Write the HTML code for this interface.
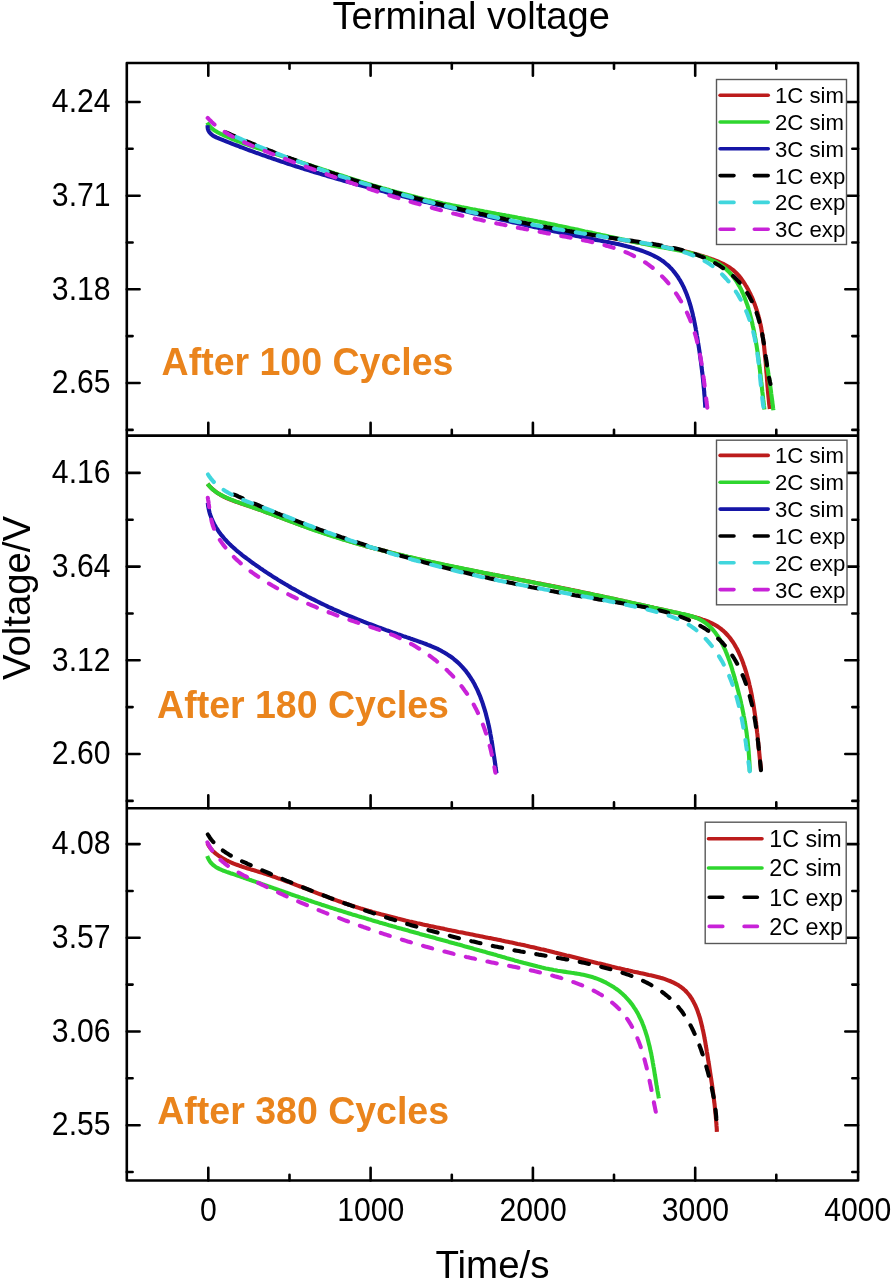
<!DOCTYPE html>
<html><head><meta charset="utf-8"><title>Terminal voltage</title>
<style>
html,body{margin:0;padding:0;background:#fff;}
body{width:892px;height:1280px;overflow:hidden;}
svg{display:block;font-family:"Liberation Sans",sans-serif;}


</style></head><body>
<svg width="892" height="1280" viewBox="0 0 892 1280">
<defs><filter id="bl" filterUnits="userSpaceOnUse" x="0" y="0" width="892" height="1280"><feGaussianBlur stdDeviation="0.45"/></filter></defs>
<rect width="892" height="1280" fill="#fff"/>
<g filter="url(#bl)">
<g><path d="M600.0,235.5 L602.0,235.9 L604.0,236.3 L606.0,236.7 L607.9,237.1 L609.9,237.5 L611.9,237.9 L613.9,238.3 L615.9,238.7 L617.9,239.0 L619.9,239.4 L621.9,239.8 L623.9,240.1 L625.8,240.5 L627.8,240.8 L629.8,241.1 L631.8,241.5 L633.8,241.8 L635.8,242.1 L637.8,242.5 L639.8,242.8 L641.8,243.1 L643.8,243.5 L645.8,243.8 L647.8,244.1 L649.8,244.5 L651.8,244.8 L653.8,245.2 L655.8,245.5 L657.8,245.9 L659.8,246.2 L661.8,246.6 L663.8,246.9 L665.7,247.3 L667.7,247.7 L669.7,248.1 L671.7,248.5 L673.7,248.9 L675.7,249.3 L677.7,249.7 L679.6,250.1 L681.6,250.6 L683.6,251.0 L685.5,251.5 L687.5,252.0 L689.5,252.5 L691.4,253.0 L693.4,253.5 L695.4,254.0 L697.3,254.6 L699.2,255.1 L701.2,255.7 L703.1,256.3 L705.1,256.9 L707.0,257.5 L708.9,258.2 L710.8,258.8 L712.7,259.5 L714.6,260.2 L716.5,260.9 L718.4,261.7 L720.2,262.5 L722.1,263.4 L723.9,264.2 L725.7,265.2 L727.4,266.2 L729.2,267.3 L730.8,268.4 L732.5,269.6 L734.0,270.9 L735.5,272.2 L737.0,273.7 L738.3,275.1 L739.7,276.7 L740.9,278.3 L742.1,279.9 L743.3,281.6 L744.4,283.3 L745.4,285.0 L746.5,286.7 L747.5,288.5 L748.5,290.3 L749.4,292.1 L750.3,293.9 L751.1,295.7 L752.0,297.5 L752.8,299.4 L753.5,301.3 L754.3,303.2 L755.0,305.1 L755.6,307.0 L756.3,308.9 L756.9,310.8 L757.5,312.8 L758.0,314.7 L758.6,316.7 L759.1,318.6 L759.6,320.6 L760.0,322.6 L760.5,324.5 L760.9,326.5 L761.3,328.5 L761.6,330.5 L762.0,332.5 L762.3,334.5 L762.7,336.5 L763.0,338.5 L763.3,340.5 L763.5,342.5 L763.8,344.5 L764.1,346.5 L764.3,348.5 L764.5,350.5 L764.7,352.5 L764.9,354.5 L765.1,356.6 L765.3,358.6 L765.5,360.6 L765.7,362.6 L765.9,364.6 L766.0,366.6 L766.2,368.7 L766.3,370.7 L766.5,372.7 L766.7,374.7 L766.8,376.7 L767.0,378.8 L767.1,380.8 L767.3,382.8 L767.4,384.8 L767.6,386.8 L767.8,388.8 L767.9,390.9 L768.1,392.9 L768.3,394.9 L768.5,396.9 L768.7,398.9 L768.9,400.9 L769.1,403.0 L769.3,405.0 L769.6,407.0 L769.8,409.0" fill="none" stroke="#BC1A1A" stroke-width="4.1" stroke-linejoin="round"/>
<path d="M207.3,122.5 L208.2,124.2 L209.4,125.9 L210.7,127.4 L212.2,128.7 L213.8,130.0 L215.5,131.1 L217.2,132.1 L219.0,133.0 L220.8,133.9 L222.6,134.7 L224.4,135.6 L226.3,136.4 L228.1,137.2 L229.9,138.0 L231.8,138.8 L233.7,139.5 L235.5,140.3 L237.4,141.0 L239.3,141.7 L241.2,142.4 L243.1,143.1 L244.9,143.8 L246.8,144.4 L248.7,145.1 L250.6,145.7 L252.5,146.4 L254.5,147.0 L256.4,147.7 L258.3,148.3 L260.2,148.9 L262.1,149.5 L264.0,150.1 L265.9,150.8 L267.8,151.4 L269.7,152.0 L271.6,152.6 L273.6,153.2 L275.5,153.9 L277.4,154.5 L279.3,155.1 L281.2,155.7 L283.1,156.4 L285.0,157.0 L286.9,157.6 L288.8,158.3 L290.7,158.9 L292.7,159.5 L294.6,160.1 L296.5,160.8 L298.4,161.4 L300.3,162.0 L302.2,162.7 L304.1,163.3 L306.0,163.9 L307.9,164.6 L309.8,165.2 L311.7,165.8 L313.6,166.5 L315.5,167.1 L317.5,167.7 L319.4,168.3 L321.3,169.0 L323.2,169.6 L325.1,170.2 L327.0,170.9 L328.9,171.5 L330.8,172.1 L332.7,172.7 L334.6,173.4 L336.5,174.0 L338.5,174.6 L340.4,175.2 L342.3,175.8 L344.2,176.4 L346.1,177.0 L348.0,177.7 L349.9,178.3 L351.9,178.9 L353.8,179.5 L355.7,180.1 L357.6,180.7 L359.5,181.3 L361.5,181.9 L363.4,182.5 L365.3,183.0 L367.2,183.6 L369.1,184.2 L371.1,184.8 L373.0,185.4 L374.9,185.9 L376.8,186.5 L378.8,187.1 L380.7,187.6 L382.6,188.2 L384.6,188.7 L386.5,189.3 L388.4,189.8 L390.4,190.4 L392.3,190.9 L394.2,191.5 L396.2,192.0 L398.1,192.5 L400.0,193.1 L402.0,193.6 L403.9,194.1 L405.9,194.6 L407.8,195.1 L409.8,195.6 L411.7,196.1 L413.7,196.6 L415.6,197.1 L417.6,197.6 L419.5,198.0 L421.5,198.5 L423.4,199.0 L425.4,199.4 L427.3,199.9 L429.3,200.3 L431.3,200.8 L433.2,201.2 L435.2,201.7 L437.1,202.1 L439.1,202.5 L441.1,202.9 L443.0,203.4 L445.0,203.8 L447.0,204.2 L448.9,204.6 L450.9,205.0 L452.9,205.4 L454.8,205.8 L456.8,206.2 L458.8,206.6 L460.8,207.0 L462.7,207.4 L464.7,207.7 L466.7,208.1 L468.6,208.5 L470.6,208.9 L472.6,209.3 L474.6,209.6 L476.5,210.0 L478.5,210.4 L480.5,210.7 L482.5,211.1 L484.4,211.5 L486.4,211.8 L488.4,212.2 L490.4,212.6 L492.3,212.9 L494.3,213.3 L496.3,213.7 L498.3,214.0 L500.3,214.4 L502.2,214.8 L504.2,215.1 L506.2,215.5 L508.2,215.8 L510.1,216.2 L512.1,216.6 L514.1,216.9 L516.1,217.3 L518.0,217.7 L520.0,218.0 L522.0,218.4 L524.0,218.8 L525.9,219.2 L527.9,219.5 L529.9,219.9 L531.9,220.3 L533.8,220.7 L535.8,221.1 L537.8,221.5 L539.7,221.8 L541.7,222.2 L543.7,222.6 L545.7,223.0 L547.6,223.4 L549.6,223.8 L551.6,224.2 L553.5,224.6 L555.5,225.0 L557.5,225.5 L559.4,225.9 L561.4,226.3 L563.4,226.7 L565.3,227.1 L567.3,227.5 L569.3,228.0 L571.2,228.4 L573.2,228.8 L575.2,229.2 L577.1,229.6 L579.1,230.1 L581.0,230.5 L583.0,230.9 L585.0,231.4 L586.9,231.8 L588.9,232.2 L590.9,232.6 L592.8,233.1 L594.8,233.5 L596.8,233.9 L598.7,234.3 L600.7,234.8 L602.6,235.2 L604.6,235.6 L606.6,236.0 L608.5,236.5 L610.5,236.9 L612.5,237.3 L614.4,237.7 L616.4,238.2 L618.4,238.6 L620.3,239.0 L622.3,239.4 L624.3,239.8 L626.2,240.2 L628.2,240.6 L630.2,241.1 L632.1,241.5 L634.1,241.9 L636.1,242.3 L638.0,242.7 L640.0,243.1 L642.0,243.5 L643.9,243.8 L645.9,244.2 L647.9,244.6 L649.9,245.0 L651.8,245.4 L653.8,245.8 L655.8,246.1 L657.8,246.5 L659.7,246.9 L661.7,247.2 L663.7,247.6 L665.7,248.0 L667.6,248.3 L669.6,248.7 L671.6,249.0 L673.6,249.4 L675.5,249.8 L677.5,250.2 L679.5,250.6 L681.5,251.0 L683.4,251.4 L685.4,251.9 L687.3,252.3 L689.3,252.8 L691.2,253.3 L693.2,253.8 L695.1,254.3 L697.1,254.9 L699.0,255.4 L700.9,256.0 L702.8,256.7 L704.7,257.3 L706.6,258.0 L708.5,258.7 L710.3,259.5 L712.2,260.3 L714.0,261.1 L715.8,262.0 L717.5,263.0 L719.3,264.0 L721.0,265.1 L722.6,266.3 L724.2,267.5 L725.7,268.8 L727.2,270.2 L728.6,271.6 L730.0,273.0 L731.4,274.5 L732.7,276.1 L733.9,277.7 L735.1,279.3 L736.2,281.0 L737.3,282.7 L738.3,284.4 L739.3,286.1 L740.3,287.9 L741.2,289.7 L742.0,291.5 L742.9,293.3 L743.7,295.2 L744.4,297.0 L745.1,298.9 L745.8,300.8 L746.5,302.7 L747.2,304.6 L747.8,306.5 L748.4,308.4 L748.9,310.3 L749.5,312.3 L750.0,314.2 L750.5,316.2 L751.0,318.1 L751.5,320.1 L752.0,322.0 L752.4,324.0 L752.8,325.9 L753.3,327.9 L753.7,329.9 L754.1,331.8 L754.5,333.8 L754.8,335.8 L755.2,337.8 L755.6,339.7 L755.9,341.7 L756.2,343.7 L756.6,345.7 L756.9,347.7 L757.2,349.7 L757.5,351.6 L757.8,353.6 L758.1,355.6 L758.3,357.6 L758.6,359.6 L758.9,361.6 L759.1,363.6 L759.4,365.6 L759.6,367.6 L759.9,369.6 L760.1,371.6 L760.3,373.6 L760.6,375.6 L760.8,377.6 L761.0,379.6 L761.2,381.5 L761.5,383.5 L761.7,385.5 L761.9,387.5 L762.1,389.5 L762.3,391.5 L762.6,393.5 L762.8,395.5 L763.0,397.5 L763.2,399.5 L763.5,401.5 L763.7,403.5 L763.9,405.5 L764.2,407.5 L764.4,409.5" fill="none" stroke="#2FD62F" stroke-width="4.1" stroke-linejoin="round"/>
<path d="M766.0,360.0 L766.4,362.1 L766.8,364.2 L767.1,366.3 L767.5,368.3 L767.9,370.4 L768.2,372.5 L768.5,374.6 L768.9,376.7 L769.2,378.8 L769.5,380.9 L769.8,383.0 L770.1,385.1 L770.4,387.2 L770.7,389.3 L771.0,391.4 L771.2,393.5 L771.5,395.6 L771.8,397.7 L772.1,399.8 L772.3,401.9 L772.6,404.0 L772.9,406.1 L773.1,408.2 L773.4,410.3" fill="none" stroke="#2FD62F" stroke-width="4.1" stroke-linejoin="round"/>
<path d="M207.6,125.2 L207.6,127.2 L207.9,129.1 L208.6,131.0 L209.7,132.7 L211.1,134.2 L212.7,135.4 L214.4,136.4 L216.2,137.3 L218.1,138.1 L219.9,138.9 L221.8,139.6 L223.7,140.4 L225.5,141.1 L227.4,141.9 L229.3,142.6 L231.1,143.3 L233.0,144.1 L234.9,144.8 L236.8,145.5 L238.6,146.2 L240.5,147.0 L242.4,147.7 L244.3,148.4 L246.2,149.1 L248.1,149.8 L249.9,150.5 L251.8,151.2 L253.7,151.9 L255.6,152.6 L257.5,153.2 L259.4,153.9 L261.3,154.6 L263.2,155.3 L265.1,155.9 L267.0,156.6 L268.9,157.3 L270.8,157.9 L272.7,158.6 L274.6,159.2 L276.5,159.9 L278.4,160.5 L280.3,161.2 L282.2,161.8 L284.1,162.4 L286.0,163.1 L287.9,163.7 L289.8,164.3 L291.7,164.9 L293.6,165.6 L295.6,166.2 L297.5,166.8 L299.4,167.4 L301.3,168.0 L303.2,168.6 L305.1,169.2 L307.1,169.8 L309.0,170.4 L310.9,171.0 L312.8,171.6 L314.7,172.2 L316.7,172.8 L318.6,173.3 L320.5,173.9 L322.4,174.5 L324.4,175.1 L326.3,175.6 L328.2,176.2 L330.2,176.8 L332.1,177.3 L334.0,177.9 L335.9,178.5 L337.9,179.0 L339.8,179.6 L341.7,180.1 L343.7,180.7 L345.6,181.2 L347.5,181.7 L349.5,182.3 L351.4,182.8 L353.4,183.4 L355.3,183.9 L357.2,184.4 L359.2,185.0 L361.1,185.5 L363.1,186.0 L365.0,186.5 L366.9,187.0 L368.9,187.6 L370.8,188.1 L372.8,188.6 L374.7,189.1 L376.7,189.6 L378.6,190.1 L380.5,190.6 L382.5,191.1 L384.4,191.6 L386.4,192.2 L388.3,192.7 L390.3,193.1 L392.2,193.6 L394.2,194.1 L396.1,194.6 L398.1,195.1 L400.0,195.6 L402.0,196.1 L403.9,196.6 L405.9,197.1 L407.8,197.6 L409.8,198.0 L411.7,198.5 L413.7,199.0 L415.6,199.5 L417.6,200.0 L419.5,200.4 L421.5,200.9 L423.4,201.4 L425.4,201.9 L427.4,202.3 L429.3,202.8 L431.3,203.3 L433.2,203.7 L435.2,204.2 L437.1,204.7 L439.1,205.1 L441.0,205.6 L443.0,206.1 L445.0,206.5 L446.9,207.0 L448.9,207.5 L450.8,207.9 L452.8,208.4 L454.7,208.8 L456.7,209.3 L458.7,209.7 L460.6,210.2 L462.6,210.7 L464.5,211.1 L466.5,211.6 L468.4,212.0 L470.4,212.5 L472.4,212.9 L474.3,213.4 L476.3,213.8 L478.2,214.3 L480.2,214.7 L482.2,215.2 L484.1,215.6 L486.1,216.1 L488.0,216.5 L490.0,217.0 L491.9,217.4 L493.9,217.9 L495.9,218.3 L497.8,218.8 L499.8,219.2 L501.7,219.7 L503.7,220.1 L505.7,220.6 L507.6,221.0 L509.6,221.5 L511.5,221.9 L513.5,222.4 L515.5,222.8 L517.4,223.2 L519.4,223.7 L521.4,224.1 L523.3,224.6 L525.3,225.0 L527.2,225.4 L529.2,225.9 L531.2,226.3 L533.1,226.7 L535.1,227.2 L537.1,227.6 L539.0,228.0 L541.0,228.5 L542.9,228.9 L544.9,229.3 L546.9,229.7 L548.8,230.2 L550.8,230.6 L552.8,231.0 L554.7,231.4 L556.7,231.8 L558.7,232.3 L560.6,232.7 L562.6,233.1 L564.6,233.5 L566.5,233.9 L568.5,234.3 L570.5,234.7 L572.4,235.1 L574.4,235.5 L576.4,235.9 L578.4,236.3 L580.3,236.7 L582.3,237.1 L584.3,237.5 L586.2,237.9 L588.2,238.3 L590.2,238.7 L592.2,239.1 L594.1,239.5 L596.1,239.9 L598.1,240.2 L600.1,240.6 L602.0,241.0 L604.0,241.4 L606.0,241.8 L607.9,242.1 L609.9,242.5 L611.9,242.9 L613.9,243.3 L615.8,243.7 L617.8,244.1 L619.8,244.6 L621.7,245.0 L623.7,245.5 L625.6,245.9 L627.6,246.4 L629.5,246.9 L631.5,247.5 L633.4,248.0 L635.3,248.6 L637.2,249.2 L639.2,249.8 L641.1,250.5 L642.9,251.2 L644.8,251.9 L646.7,252.6 L648.6,253.4 L650.4,254.2 L652.2,255.0 L654.0,255.9 L655.8,256.8 L657.6,257.8 L659.3,258.8 L661.0,259.9 L662.7,261.0 L664.3,262.2 L665.8,263.5 L667.4,264.8 L668.9,266.1 L670.3,267.6 L671.7,269.0 L673.0,270.5 L674.3,272.1 L675.5,273.7 L676.7,275.3 L677.9,276.9 L678.9,278.6 L680.0,280.3 L681.0,282.1 L682.0,283.8 L682.9,285.6 L683.8,287.4 L684.6,289.3 L685.4,291.1 L686.2,293.0 L686.9,294.8 L687.6,296.7 L688.3,298.6 L688.9,300.5 L689.5,302.4 L690.1,304.4 L690.7,306.3 L691.2,308.2 L691.7,310.2 L692.2,312.1 L692.7,314.1 L693.1,316.0 L693.6,318.0 L694.0,320.0 L694.4,321.9 L694.8,323.9 L695.2,325.9 L695.6,327.8 L695.9,329.8 L696.3,331.8 L696.6,333.8 L696.9,335.8 L697.3,337.7 L697.6,339.7 L697.9,341.7 L698.2,343.7 L698.6,345.7 L698.9,347.7 L699.2,349.7 L699.5,351.7 L699.8,353.6 L700.0,355.6 L700.3,357.6 L700.6,359.6 L700.9,361.6 L701.1,363.6 L701.4,365.6 L701.6,367.6 L701.9,369.6 L702.1,371.6 L702.4,373.6 L702.6,375.6 L702.8,377.6 L703.0,379.6 L703.2,381.6 L703.4,383.6 L703.6,385.6 L703.8,387.6 L704.0,389.6 L704.2,391.6 L704.3,393.6 L704.5,395.6 L704.7,397.6 L704.8,399.6 L704.9,401.6 L705.1,403.6 L705.2,405.6 L705.3,407.6" fill="none" stroke="#1212A6" stroke-width="4.1" stroke-linejoin="round"/>
<path d="M225.9,132.4 L227.7,133.2 L229.6,134.0 L231.4,134.8 L233.3,135.6 L235.1,136.4 L237.0,137.2 L238.8,138.0 L240.7,138.8 L242.5,139.5 L244.4,140.3 L246.2,141.1 L248.1,141.8 L250.0,142.6 L251.8,143.4 L253.7,144.1 L255.5,144.9 L257.4,145.6 L259.3,146.4 L261.1,147.1 L263.0,147.9 L264.9,148.6 L266.7,149.3 L268.6,150.1 L270.5,150.8 L272.4,151.5 L274.2,152.3 L276.1,153.0 L278.0,153.7 L279.9,154.4 L281.7,155.1 L283.6,155.8 L285.5,156.5 L287.4,157.3 L289.3,158.0 L291.2,158.7 L293.0,159.3 L294.9,160.0 L296.8,160.7 L298.7,161.4 L300.6,162.1 L302.5,162.8 L304.4,163.5 L306.3,164.1 L308.2,164.8 L310.1,165.5 L312.0,166.1 L313.8,166.8 L315.7,167.5 L317.6,168.1 L319.5,168.8 L321.4,169.4 L323.3,170.1 L325.3,170.7 L327.2,171.4 L329.1,172.0 L331.0,172.6 L332.9,173.3 L334.8,173.9 L336.7,174.5 L338.6,175.2 L340.5,175.8 L342.4,176.4 L344.3,177.0 L346.2,177.6 L348.2,178.2 L350.1,178.9 L352.0,179.5 L353.9,180.1 L355.8,180.7 L357.7,181.3 L359.7,181.9 L361.6,182.4 L363.5,183.0 L365.4,183.6 L367.4,184.2 L369.3,184.8 L371.2,185.4 L373.1,185.9 L375.1,186.5 L377.0,187.1 L378.9,187.7 L380.8,188.2 L382.8,188.8 L384.7,189.3 L386.6,189.9 L388.6,190.5 L390.5,191.0 L392.4,191.6 L394.4,192.1 L396.3,192.7 L398.2,193.2 L400.2,193.7 L402.1,194.3 L404.0,194.8 L406.0,195.3 L407.9,195.9 L409.8,196.4 L411.8,196.9 L413.7,197.4 L415.7,198.0 L417.6,198.5 L419.6,199.0 L421.5,199.5 L423.4,200.0 L425.4,200.5 L427.3,201.0 L429.3,201.5 L431.2,202.0 L433.2,202.5 L435.1,203.0 L437.1,203.5 L439.0,204.0 L441.0,204.5 L442.9,205.0 L444.9,205.4 L446.8,205.9 L448.8,206.4 L450.7,206.9 L452.7,207.3 L454.6,207.8 L456.6,208.3 L458.5,208.7 L460.5,209.2 L462.5,209.7 L464.4,210.1 L466.4,210.6 L468.3,211.0 L470.3,211.5 L472.3,211.9 L474.2,212.4 L476.2,212.8 L478.1,213.2 L480.1,213.7 L482.1,214.1 L484.0,214.5 L486.0,215.0 L487.9,215.4 L489.9,215.8 L491.9,216.3 L493.8,216.7 L495.8,217.1 L497.8,217.5 L499.7,217.9 L501.7,218.3 L503.7,218.7 L505.6,219.2 L507.6,219.6 L509.6,220.0 L511.5,220.4 L513.5,220.8 L515.5,221.2 L517.5,221.6 L519.4,221.9 L521.4,222.3 L523.4,222.7 L525.3,223.1 L527.3,223.5 L529.3,223.9 L531.3,224.2 L533.2,224.6 L535.2,225.0 L537.2,225.4 L539.2,225.7 L541.1,226.1 L543.1,226.5 L545.1,226.8 L547.1,227.2 L549.0,227.5 L551.0,227.9 L553.0,228.3 L555.0,228.6 L557.0,229.0 L558.9,229.3 L560.9,229.7 L562.9,230.0 L564.9,230.3 L566.9,230.7 L568.8,231.0 L570.8,231.4 L572.8,231.7 L574.8,232.0 L576.8,232.4 L578.7,232.7 L580.7,233.0 L582.7,233.3 L584.7,233.7 L586.7,234.0 L588.7,234.3 L590.7,234.6 L592.6,234.9 L594.6,235.2 L596.6,235.6 L598.6,235.9 L600.6,236.2 L602.6,236.5 L604.5,236.8 L606.5,237.1 L608.5,237.4 L610.5,237.7 L612.5,238.0 L614.5,238.3 L616.5,238.6 L618.5,238.9 L620.4,239.2 L622.4,239.5 L624.4,239.8 L626.4,240.1 L628.4,240.4 L630.4,240.6 L632.4,240.9 L634.4,241.2 L636.4,241.5 L638.3,241.8 L640.3,242.1 L642.3,242.4 L644.3,242.7 L646.3,243.0 L648.3,243.3 L650.3,243.6 L652.3,243.9 L654.2,244.2 L656.2,244.6 L658.2,244.9 L660.2,245.3 L662.2,245.6 L664.1,246.0 L666.1,246.4 L668.1,246.8 L670.0,247.2 L672.0,247.6 L674.0,248.1 L675.9,248.5 L677.9,249.0 L679.8,249.5 L681.8,250.0 L683.7,250.6 L685.6,251.1 L687.6,251.7 L689.5,252.3 L691.4,252.9 L693.3,253.5 L695.2,254.2 L697.1,254.9 L698.9,255.6 L700.8,256.4 L702.7,257.1 L704.5,257.9 L706.3,258.7 L708.2,259.6 L710.0,260.5 L711.8,261.4 L713.5,262.3 L715.3,263.3 L717.0,264.3 L718.8,265.3 L720.5,266.4 L722.1,267.5 L723.8,268.6 L725.4,269.8 L727.1,271.0 L728.6,272.2 L730.2,273.5 L731.7,274.8 L733.2,276.1 L734.7,277.5 L736.1,278.9 L737.5,280.4 L738.9,281.8 L740.2,283.3 L741.5,284.9 L742.8,286.5 L744.0,288.1 L745.1,289.7 L746.2,291.4 L747.3,293.1 L748.4,294.8 L749.4,296.5 L750.3,298.3 L751.2,300.1 L752.1,301.9 L753.0,303.7 L753.8,305.6 L754.6,307.4 L755.3,309.3 L756.0,311.2 L756.7,313.1 L757.3,315.0 L758.0,316.9 L758.5,318.8 L759.1,320.7 L759.6,322.7 L760.1,324.6 L760.6,326.6 L761.0,328.5 L761.5,330.5 L761.9,332.5 L762.3,334.4 L762.6,336.4 L763.0,338.4 L763.3,340.4 L763.7,342.3 L764.0,344.3 L764.3,346.3 L764.6,348.3 L764.9,350.3 L765.2,352.3 L765.5,354.3 L765.7,356.3 L766.0,358.2 L766.3,360.2 L766.6,362.2 L766.9,364.2 L767.2,366.2 L767.5,368.2 L767.8,370.2 L768.1,372.2 L768.5,374.1 L768.8,376.1 L769.2,378.1 L769.6,380.1 L770.0,382.0 L770.5,384.0" fill="none" stroke="#000000" stroke-width="4.1" stroke-dasharray="9.5 12.6" stroke-dashoffset="0" stroke-linecap="round" stroke-linejoin="round"/>
<path d="M226.0,132.7 L227.8,133.5 L229.7,134.3 L231.5,135.1 L233.4,135.9 L235.2,136.7 L237.1,137.4 L238.9,138.2 L240.8,139.0 L242.6,139.8 L244.5,140.6 L246.3,141.3 L248.2,142.1 L250.0,142.9 L251.9,143.6 L253.8,144.4 L255.6,145.2 L257.5,145.9 L259.4,146.7 L261.2,147.4 L263.1,148.2 L265.0,148.9 L266.8,149.6 L268.7,150.4 L270.6,151.1 L272.5,151.8 L274.3,152.6 L276.2,153.3 L278.1,154.0 L280.0,154.7 L281.8,155.4 L283.7,156.2 L285.6,156.9 L287.5,157.6 L289.4,158.3 L291.3,159.0 L293.1,159.7 L295.0,160.4 L296.9,161.1 L298.8,161.7 L300.7,162.4 L302.6,163.1 L304.5,163.8 L306.4,164.5 L308.3,165.1 L310.2,165.8 L312.1,166.5 L314.0,167.2 L315.9,167.8 L317.8,168.5 L319.7,169.1 L321.6,169.8 L323.5,170.4 L325.4,171.1 L327.3,171.7 L329.2,172.4 L331.1,173.0 L333.0,173.7 L334.9,174.3 L336.8,174.9 L338.7,175.5 L340.7,176.2 L342.6,176.8 L344.5,177.4 L346.4,178.0 L348.3,178.6 L350.2,179.3 L352.1,179.9 L354.1,180.5 L356.0,181.1 L357.9,181.7 L359.8,182.3 L361.7,182.9 L363.7,183.5 L365.6,184.0 L367.5,184.6 L369.4,185.2 L371.4,185.8 L373.3,186.4 L375.2,187.0 L377.1,187.5 L379.1,188.1 L381.0,188.7 L382.9,189.2 L384.9,189.8 L386.8,190.3 L388.7,190.9 L390.7,191.5 L392.6,192.0 L394.5,192.6 L396.5,193.1 L398.4,193.6 L400.3,194.2 L402.3,194.7 L404.2,195.3 L406.2,195.8 L408.1,196.3 L410.0,196.8 L412.0,197.4 L413.9,197.9 L415.9,198.4 L417.8,198.9 L419.8,199.4 L421.7,200.0 L423.7,200.5 L425.6,201.0 L427.5,201.5 L429.5,202.0 L431.4,202.5 L433.4,203.0 L435.3,203.5 L437.3,203.9 L439.2,204.4 L441.2,204.9 L443.2,205.4 L445.1,205.9 L447.1,206.4 L449.0,206.8 L451.0,207.3 L452.9,207.8 L454.9,208.2 L456.8,208.7 L458.8,209.2 L460.8,209.6 L462.7,210.1 L464.7,210.5 L466.6,211.0 L468.6,211.4 L470.6,211.9 L472.5,212.3 L474.5,212.8 L476.4,213.2 L478.4,213.7 L480.4,214.1 L482.3,214.5 L484.3,214.9 L486.3,215.4 L488.2,215.8 L490.2,216.2 L492.2,216.6 L494.1,217.1 L496.1,217.5 L498.1,217.9 L500.0,218.3 L502.0,218.7 L504.0,219.1 L506.0,219.5 L507.9,219.9 L509.9,220.3 L511.9,220.7 L513.8,221.1 L515.8,221.5 L517.8,221.9 L519.8,222.3 L521.7,222.6 L523.7,223.0 L525.7,223.4 L527.7,223.8 L529.6,224.2 L531.6,224.5 L533.6,224.9 L535.6,225.3 L537.6,225.6 L539.5,226.0 L541.5,226.4 L543.5,226.7 L545.5,227.1 L547.4,227.4 L549.4,227.8 L551.4,228.1 L553.4,228.5 L555.4,228.8 L557.4,229.2 L559.3,229.5 L561.3,229.8 L563.3,230.2 L565.3,230.5 L567.3,230.8 L569.3,231.2 L571.2,231.5 L573.2,231.8 L575.2,232.2 L577.2,232.5 L579.2,232.8 L581.2,233.2 L583.1,233.5 L585.1,233.8 L587.1,234.1 L589.1,234.4 L591.1,234.8 L593.1,235.1 L595.1,235.4 L597.0,235.7 L599.0,236.0 L601.0,236.3 L603.0,236.7 L605.0,237.0 L607.0,237.3 L609.0,237.6 L611.0,237.9 L612.9,238.2 L614.9,238.5 L616.9,238.8 L618.9,239.1 L620.9,239.5 L622.9,239.8 L624.9,240.1 L626.9,240.4 L628.8,240.7 L630.8,241.0 L632.8,241.3 L634.8,241.6 L636.8,241.9 L638.8,242.3 L640.8,242.6 L642.8,242.9 L644.7,243.2 L646.7,243.6 L648.7,243.9 L650.7,244.3 L652.7,244.6 L654.6,245.0 L656.6,245.4 L658.6,245.8 L660.6,246.2 L662.5,246.6 L664.5,247.0 L666.5,247.4 L668.4,247.9 L670.4,248.3 L672.3,248.8 L674.3,249.3 L676.2,249.8 L678.2,250.4 L680.1,250.9 L682.0,251.5 L683.9,252.1 L685.9,252.7 L687.8,253.4 L689.6,254.1 L691.5,254.8 L693.4,255.5 L695.3,256.3 L697.1,257.1 L698.9,258.0 L700.7,258.9 L702.5,259.8 L704.3,260.8 L706.0,261.8 L707.7,262.8 L709.4,263.9 L711.1,265.1 L712.7,266.2 L714.3,267.5 L715.9,268.7 L717.4,270.0 L718.9,271.4 L720.4,272.7 L721.8,274.1 L723.2,275.5 L724.6,277.0 L726.0,278.5 L727.3,280.0 L728.6,281.5 L729.9,283.1 L731.1,284.7 L732.3,286.3 L733.5,287.9 L734.6,289.6 L735.7,291.3 L736.8,293.0 L737.9,294.7 L738.9,296.4 L739.9,298.2 L740.9,299.9 L741.8,301.7 L742.7,303.5 L743.6,305.3 L744.5,307.1 L745.3,308.9 L746.1,310.8 L746.9,312.6 L747.6,314.5 L748.3,316.4 L749.0,318.3 L749.7,320.2 L750.3,322.1 L751.0,324.0 L751.6,325.9 L752.1,327.9 L752.7,329.8 L753.2,331.7 L753.7,333.7 L754.1,335.6 L754.6,337.6 L755.0,339.6 L755.4,341.5 L755.7,343.5 L756.1,345.5 L756.4,347.5 L756.8,349.5 L757.1,351.5 L757.4,353.4 L757.6,355.4 L757.9,357.4 L758.2,359.4 L758.4,361.4 L758.6,363.4 L758.9,365.4 L759.1,367.4 L759.3,369.4 L759.5,371.4 L759.7,373.4 L759.9,375.4 L760.1,377.4 L760.3,379.4 L760.5,381.4 L760.7,383.4 L760.9,385.4 L761.1,387.4 L761.3,389.4 L761.5,391.4 L761.7,393.4 L761.9,395.4 L762.2,397.4 L762.4,399.4 L762.7,401.4 L762.9,403.4 L763.2,405.4 L763.5,407.4 L763.8,409.4" fill="none" stroke="#3FD6DD" stroke-width="4.1" stroke-dasharray="9.5 12.6" stroke-dashoffset="11" stroke-linecap="round" stroke-linejoin="round"/>
<path d="M207.7,117.9 L209.1,119.4 L210.5,120.8 L211.9,122.2 L213.4,123.6 L214.9,124.9 L216.5,126.2 L218.1,127.4 L219.7,128.6 L221.3,129.8 L223.0,130.9 L224.7,132.0 L226.4,133.1 L228.1,134.1 L229.9,135.1 L231.6,136.1 L233.4,137.0 L235.2,138.0 L237.0,138.9 L238.8,139.8 L240.6,140.6 L242.4,141.5 L244.3,142.3 L246.1,143.1 L247.9,143.9 L249.8,144.7 L251.6,145.5 L253.5,146.3 L255.3,147.1 L257.2,147.9 L259.0,148.7 L260.9,149.4 L262.8,150.2 L264.6,150.9 L266.5,151.7 L268.4,152.4 L270.2,153.2 L272.1,153.9 L274.0,154.7 L275.9,155.4 L277.7,156.1 L279.6,156.9 L281.5,157.6 L283.4,158.3 L285.2,159.0 L287.1,159.7 L289.0,160.4 L290.9,161.2 L292.8,161.9 L294.7,162.6 L296.6,163.3 L298.4,164.0 L300.3,164.7 L302.2,165.4 L304.1,166.1 L306.0,166.8 L307.9,167.5 L309.8,168.2 L311.7,168.8 L313.5,169.5 L315.4,170.2 L317.3,170.9 L319.2,171.6 L321.1,172.3 L323.0,173.0 L324.9,173.6 L326.8,174.3 L328.7,175.0 L330.6,175.7 L332.5,176.3 L334.4,177.0 L336.3,177.7 L338.2,178.3 L340.1,179.0 L342.0,179.7 L343.9,180.3 L345.8,181.0 L347.7,181.6 L349.6,182.3 L351.5,182.9 L353.4,183.6 L355.3,184.2 L357.2,184.9 L359.1,185.5 L361.0,186.2 L362.9,186.8 L364.8,187.4 L366.8,188.1 L368.7,188.7 L370.6,189.3 L372.5,190.0 L374.4,190.6 L376.3,191.2 L378.2,191.8 L380.2,192.4 L382.1,193.0 L384.0,193.7 L385.9,194.3 L387.8,194.9 L389.7,195.5 L391.7,196.1 L393.6,196.7 L395.5,197.3 L397.4,197.8 L399.4,198.4 L401.3,199.0 L403.2,199.6 L405.1,200.2 L407.1,200.8 L409.0,201.3 L410.9,201.9 L412.9,202.5 L414.8,203.0 L416.7,203.6 L418.7,204.1 L420.6,204.7 L422.5,205.2 L424.5,205.8 L426.4,206.3 L428.4,206.9 L430.3,207.4 L432.2,207.9 L434.2,208.5 L436.1,209.0 L438.1,209.5 L440.0,210.0 L442.0,210.5 L443.9,211.1 L445.8,211.6 L447.8,212.1 L449.7,212.6 L451.7,213.1 L453.6,213.6 L455.6,214.0 L457.6,214.5 L459.5,215.0 L461.5,215.5 L463.4,216.0 L465.4,216.4 L467.3,216.9 L469.3,217.4 L471.3,217.8 L473.2,218.3 L475.2,218.7 L477.1,219.2 L479.1,219.6 L481.1,220.0 L483.0,220.5 L485.0,220.9 L487.0,221.3 L488.9,221.7 L490.9,222.2 L492.9,222.6 L494.8,223.0 L496.8,223.4 L498.8,223.8 L500.8,224.2 L502.7,224.6 L504.7,225.0 L506.7,225.4 L508.6,225.8 L510.6,226.2 L512.6,226.6 L514.6,227.0 L516.5,227.4 L518.5,227.8 L520.5,228.2 L522.5,228.5 L524.4,228.9 L526.4,229.3 L528.4,229.7 L530.4,230.1 L532.3,230.4 L534.3,230.8 L536.3,231.2 L538.3,231.6 L540.3,231.9 L542.2,232.3 L544.2,232.7 L546.2,233.1 L548.2,233.4 L550.1,233.8 L552.1,234.2 L554.1,234.6 L556.1,234.9 L558.1,235.3 L560.0,235.7 L562.0,236.1 L564.0,236.4 L566.0,236.8 L567.9,237.2 L569.9,237.6 L571.9,237.9 L573.9,238.3 L575.8,238.7 L577.8,239.1 L579.8,239.5 L581.8,239.9 L583.7,240.3 L585.7,240.7 L587.7,241.1 L589.6,241.5 L591.6,242.0 L593.6,242.4 L595.5,242.9 L597.5,243.3 L599.4,243.8 L601.4,244.3 L603.3,244.8 L605.3,245.4 L607.2,245.9 L609.2,246.5 L611.1,247.0 L613.0,247.6 L614.9,248.2 L616.8,248.9 L618.7,249.5 L620.6,250.2 L622.5,250.9 L624.4,251.7 L626.2,252.4 L628.1,253.2 L629.9,254.0 L631.8,254.9 L633.6,255.8 L635.4,256.7 L637.2,257.6 L638.9,258.6 L640.7,259.6 L642.4,260.6 L644.1,261.7 L645.8,262.8 L647.4,263.9 L649.1,265.1 L650.7,266.3 L652.3,267.5 L653.8,268.8 L655.4,270.1 L656.9,271.4 L658.4,272.8 L659.9,274.1 L661.3,275.5 L662.7,277.0 L664.1,278.4 L665.5,279.9 L666.8,281.4 L668.1,282.9 L669.4,284.5 L670.7,286.1 L671.9,287.7 L673.1,289.3 L674.3,290.9 L675.4,292.5 L676.6,294.2 L677.7,295.9 L678.8,297.6 L679.8,299.3 L680.9,301.0 L681.9,302.8 L682.8,304.5 L683.8,306.3 L684.7,308.1 L685.6,309.9 L686.5,311.7 L687.4,313.5 L688.2,315.3 L689.0,317.2 L689.8,319.0 L690.5,320.9 L691.3,322.8 L692.0,324.7 L692.7,326.5 L693.3,328.5 L693.9,330.4 L694.5,332.3 L695.1,334.2 L695.7,336.1 L696.2,338.1 L696.7,340.0 L697.2,342.0 L697.7,343.9 L698.2,345.9 L698.6,347.9 L699.0,349.8 L699.4,351.8 L699.8,353.8 L700.2,355.8 L700.5,357.7 L700.9,359.7 L701.2,361.7 L701.6,363.7 L701.9,365.7 L702.2,367.7 L702.5,369.7 L702.7,371.6 L703.0,373.6 L703.3,375.6 L703.6,377.6 L703.8,379.6 L704.1,381.6 L704.3,383.6 L704.6,385.6 L704.8,387.6 L705.0,389.6 L705.3,391.6 L705.5,393.6 L705.8,395.6 L706.0,397.6 L706.3,399.6 L706.5,401.6 L706.8,403.6 L707.0,405.6 L707.3,407.6" fill="none" stroke="#C824D8" stroke-width="4.1" stroke-dasharray="9.5 12.6" stroke-dashoffset="0" stroke-linecap="round" stroke-linejoin="round"/>
<path d="M207.6,483.9 L208.8,485.4 L210.2,486.9 L211.6,488.3 L213.1,489.6 L214.7,490.9 L216.3,492.1 L217.9,493.3 L219.6,494.3 L221.4,495.4 L223.1,496.3 L224.9,497.2 L226.7,498.1 L228.6,498.9 L230.4,499.7 L232.3,500.4 L234.2,501.1 L236.1,501.8 L238.0,502.4 L239.9,503.1 L241.8,503.7 L243.7,504.4 L245.6,505.0 L247.5,505.6 L249.4,506.2 L251.3,506.9 L253.2,507.5 L255.1,508.2 L257.0,508.8 L258.9,509.5 L260.8,510.2 L262.7,510.9 L264.5,511.6 L266.4,512.3 L268.3,513.0 L270.2,513.7 L272.1,514.4 L274.0,515.1 L275.8,515.8 L277.7,516.5 L279.6,517.2 L281.5,517.9 L283.4,518.6 L285.2,519.3 L287.1,520.0 L289.0,520.7 L290.9,521.4 L292.8,522.1 L294.7,522.8 L296.6,523.5 L298.5,524.1 L300.3,524.8 L302.2,525.5 L304.1,526.2 L306.0,526.8 L307.9,527.5 L309.8,528.2 L311.7,528.8 L313.6,529.5 L315.5,530.1 L317.4,530.8 L319.3,531.4 L321.2,532.1 L323.1,532.7 L325.0,533.4 L326.9,534.0 L328.8,534.6 L330.7,535.3 L332.6,535.9 L334.6,536.5 L336.5,537.1 L338.4,537.7 L340.3,538.3 L342.2,539.0 L344.1,539.6 L346.0,540.1 L348.0,540.7 L349.9,541.3 L351.8,541.9 L353.7,542.5 L355.7,543.1 L357.6,543.6 L359.5,544.2 L361.4,544.7 L363.4,545.3 L365.3,545.9 L367.2,546.4 L369.2,546.9 L371.1,547.5 L373.0,548.0 L375.0,548.5 L376.9,549.1 L378.9,549.6 L380.8,550.1 L382.7,550.6 L384.7,551.1 L386.6,551.6 L388.6,552.1 L390.5,552.6 L392.5,553.1 L394.4,553.6 L396.4,554.1 L398.3,554.5 L400.3,555.0 L402.2,555.5 L404.2,556.0 L406.1,556.4 L408.1,556.9 L410.0,557.4 L412.0,557.8 L414.0,558.3 L415.9,558.7 L417.9,559.2 L419.8,559.6 L421.8,560.0 L423.7,560.5 L425.7,560.9 L427.7,561.4 L429.6,561.8 L431.6,562.2 L433.6,562.6 L435.5,563.1 L437.5,563.5 L439.4,563.9 L441.4,564.3 L443.4,564.7 L445.3,565.1 L447.3,565.6 L449.3,566.0 L451.2,566.4 L453.2,566.8 L455.2,567.2 L457.1,567.6 L459.1,568.0 L461.1,568.4 L463.1,568.8 L465.0,569.2 L467.0,569.6 L469.0,569.9 L470.9,570.3 L472.9,570.7 L474.9,571.1 L476.8,571.5 L478.8,571.9 L480.8,572.3 L482.8,572.7 L484.7,573.0 L486.7,573.4 L488.7,573.8 L490.7,574.2 L492.6,574.6 L494.6,574.9 L496.6,575.3 L498.5,575.7 L500.5,576.1 L502.5,576.4 L504.5,576.8 L506.4,577.2 L508.4,577.6 L510.4,578.0 L512.4,578.3 L514.3,578.7 L516.3,579.1 L518.3,579.5 L520.2,579.8 L522.2,580.2 L524.2,580.6 L526.2,581.0 L528.1,581.3 L530.1,581.7 L532.1,582.1 L534.1,582.5 L536.0,582.9 L538.0,583.3 L540.0,583.6 L541.9,584.0 L543.9,584.4 L545.9,584.8 L547.9,585.2 L549.8,585.6 L551.8,586.0 L553.8,586.3 L555.7,586.7 L557.7,587.1 L559.7,587.5 L561.6,587.9 L563.6,588.3 L565.6,588.7 L567.6,589.1 L569.5,589.5 L571.5,589.9 L573.5,590.3 L575.4,590.7 L577.4,591.1 L579.4,591.6 L581.3,592.0 L583.3,592.4 L585.3,592.8 L587.2,593.2 L589.2,593.6 L591.1,594.0 L593.1,594.5 L595.1,594.9 L597.0,595.3 L599.0,595.7 L601.0,596.1 L602.9,596.6 L604.9,597.0 L606.9,597.4 L608.8,597.8 L610.8,598.3 L612.7,598.7 L614.7,599.1 L616.7,599.5 L618.6,600.0 L620.6,600.4 L622.6,600.8 L624.5,601.3 L626.5,601.7 L628.4,602.1 L630.4,602.6 L632.4,603.0 L634.3,603.4 L636.3,603.9 L638.2,604.3 L640.2,604.7 L642.2,605.2 L644.1,605.6 L646.1,606.0 L648.1,606.5 L650.0,606.9 L652.0,607.3 L653.9,607.8 L655.9,608.2 L657.9,608.7 L659.8,609.1 L661.8,609.5 L663.7,610.0 L665.7,610.4 L667.7,610.8 L669.6,611.3 L671.6,611.7 L673.5,612.2 L675.5,612.6 L677.5,613.0 L679.4,613.5 L681.4,613.9 L683.3,614.3 L685.3,614.8 L687.3,615.2 L689.2,615.7 L691.2,616.2 L693.1,616.7 L695.0,617.2 L697.0,617.8 L698.9,618.3 L700.8,618.9 L702.7,619.6 L704.6,620.2 L706.5,620.9 L708.4,621.7 L710.2,622.5 L712.0,623.4 L713.8,624.3 L715.6,625.3 L717.3,626.3 L718.9,627.4 L720.6,628.6 L722.1,629.9 L723.7,631.2 L725.1,632.5 L726.5,634.0 L727.9,635.5 L729.2,637.0 L730.4,638.6 L731.6,640.2 L732.8,641.8 L733.9,643.5 L734.9,645.2 L735.9,647.0 L736.9,648.7 L737.8,650.5 L738.7,652.3 L739.5,654.2 L740.3,656.0 L741.1,657.8 L741.9,659.7 L742.6,661.6 L743.3,663.5 L743.9,665.4 L744.6,667.3 L745.2,669.2 L745.8,671.1 L746.4,673.0 L746.9,675.0 L747.4,676.9 L748.0,678.8 L748.5,680.8 L749.0,682.7 L749.4,684.7 L749.9,686.6 L750.3,688.6 L750.8,690.6 L751.2,692.5 L751.6,694.5 L752.0,696.5 L752.3,698.4 L752.7,700.4 L753.1,702.4 L753.4,704.4 L753.7,706.3 L754.0,708.3 L754.3,710.3 L754.6,712.3 L754.9,714.3 L755.2,716.3 L755.5,718.3 L755.7,720.3 L756.0,722.3 L756.2,724.2 L756.5,726.2 L756.7,728.2 L756.9,730.2 L757.1,732.2 L757.4,734.2 L757.6,736.2 L757.8,738.2 L758.0,740.2 L758.2,742.2 L758.4,744.2 L758.6,746.2 L758.8,748.2 L759.0,750.2 L759.2,752.2 L759.4,754.2 L759.6,756.2 L759.8,758.2 L760.0,760.2 L760.2,762.2 L760.4,764.2 L760.6,766.2 L760.8,768.2 L761.0,770.2" fill="none" stroke="#BC1A1A" stroke-width="4.1" stroke-linejoin="round"/>
<path d="M207.6,483.8 L208.8,485.4 L210.1,486.9 L211.5,488.4 L213.0,489.7 L214.6,490.9 L216.2,492.1 L217.9,493.2 L219.7,494.2 L221.4,495.2 L223.2,496.1 L225.0,497.0 L226.8,497.8 L228.7,498.6 L230.5,499.4 L232.4,500.1 L234.3,500.9 L236.1,501.6 L238.0,502.2 L239.9,502.9 L241.8,503.6 L243.7,504.2 L245.6,504.9 L247.5,505.5 L249.4,506.2 L251.3,506.8 L253.2,507.5 L255.1,508.2 L257.0,508.8 L258.9,509.5 L260.8,510.2 L262.7,510.9 L264.5,511.6 L266.4,512.3 L268.3,513.0 L270.2,513.7 L272.1,514.4 L273.9,515.1 L275.8,515.8 L277.7,516.5 L279.6,517.2 L281.5,518.0 L283.3,518.7 L285.2,519.4 L287.1,520.1 L289.0,520.8 L290.8,521.5 L292.7,522.2 L294.6,522.9 L296.5,523.6 L298.4,524.4 L300.2,525.1 L302.1,525.7 L304.0,526.4 L305.9,527.1 L307.8,527.8 L309.7,528.5 L311.6,529.2 L313.5,529.8 L315.3,530.5 L317.2,531.1 L319.1,531.8 L321.0,532.4 L322.9,533.1 L324.9,533.7 L326.8,534.3 L328.7,535.0 L330.6,535.6 L332.5,536.2 L334.4,536.8 L336.3,537.4 L338.2,538.0 L340.2,538.6 L342.1,539.2 L344.0,539.8 L345.9,540.3 L347.8,540.9 L349.8,541.5 L351.7,542.0 L353.6,542.6 L355.6,543.2 L357.5,543.7 L359.4,544.3 L361.4,544.8 L363.3,545.3 L365.2,545.9 L367.2,546.4 L369.1,546.9 L371.0,547.4 L373.0,548.0 L374.9,548.5 L376.9,549.0 L378.8,549.5 L380.7,550.0 L382.7,550.5 L384.6,551.0 L386.6,551.5 L388.5,552.0 L390.5,552.5 L392.4,552.9 L394.4,553.4 L396.3,553.9 L398.3,554.4 L400.2,554.8 L402.2,555.3 L404.1,555.8 L406.1,556.2 L408.0,556.7 L410.0,557.1 L412.0,557.6 L413.9,558.0 L415.9,558.5 L417.8,558.9 L419.8,559.4 L421.7,559.8 L423.7,560.2 L425.7,560.7 L427.6,561.1 L429.6,561.5 L431.6,562.0 L433.5,562.4 L435.5,562.8 L437.4,563.2 L439.4,563.6 L441.4,564.1 L443.3,564.5 L445.3,564.9 L447.3,565.3 L449.2,565.7 L451.2,566.1 L453.2,566.5 L455.1,566.9 L457.1,567.3 L459.1,567.7 L461.0,568.1 L463.0,568.5 L465.0,568.9 L466.9,569.3 L468.9,569.7 L470.9,570.1 L472.8,570.5 L474.8,570.9 L476.8,571.3 L478.7,571.7 L480.7,572.1 L482.7,572.5 L484.6,572.9 L486.6,573.3 L488.6,573.7 L490.6,574.1 L492.5,574.5 L494.5,574.8 L496.5,575.2 L498.4,575.6 L500.4,576.0 L502.4,576.4 L504.3,576.8 L506.3,577.2 L508.3,577.6 L510.3,578.0 L512.2,578.3 L514.2,578.7 L516.2,579.1 L518.1,579.5 L520.1,579.9 L522.1,580.3 L524.0,580.7 L526.0,581.1 L528.0,581.4 L530.0,581.8 L531.9,582.2 L533.9,582.6 L535.9,583.0 L537.8,583.4 L539.8,583.8 L541.8,584.2 L543.7,584.6 L545.7,585.0 L547.7,585.3 L549.6,585.7 L551.6,586.1 L553.6,586.5 L555.6,586.9 L557.5,587.3 L559.5,587.7 L561.5,588.1 L563.4,588.5 L565.4,588.9 L567.4,589.3 L569.3,589.7 L571.3,590.1 L573.3,590.5 L575.2,590.9 L577.2,591.3 L579.2,591.7 L581.1,592.1 L583.1,592.5 L585.1,592.9 L587.0,593.3 L589.0,593.7 L591.0,594.1 L592.9,594.5 L594.9,594.9 L596.9,595.3 L598.8,595.7 L600.8,596.1 L602.8,596.6 L604.7,597.0 L606.7,597.4 L608.7,597.8 L610.6,598.2 L612.6,598.6 L614.5,599.1 L616.5,599.5 L618.5,599.9 L620.4,600.3 L622.4,600.7 L624.4,601.2 L626.3,601.6 L628.3,602.0 L630.2,602.5 L632.2,602.9 L634.2,603.3 L636.1,603.7 L638.1,604.2 L640.0,604.6 L642.0,605.0 L644.0,605.5 L645.9,605.9 L647.9,606.3 L649.9,606.8 L651.8,607.2 L653.8,607.7 L655.7,608.1 L657.7,608.5 L659.7,609.0 L661.6,609.4 L663.6,609.8 L665.5,610.2 L667.5,610.7 L669.5,611.1 L671.4,611.5 L673.4,612.0 L675.3,612.4 L677.3,612.8 L679.3,613.2 L681.2,613.7 L683.2,614.1 L685.1,614.5 L687.1,615.0 L689.0,615.5 L691.0,616.1 L692.9,616.6 L694.8,617.3 L696.7,618.0 L698.5,618.8 L700.3,619.7 L702.1,620.7 L703.8,621.8 L705.4,622.9 L707.0,624.1 L708.5,625.4 L710.0,626.8 L711.4,628.2 L712.8,629.7 L714.1,631.2 L715.4,632.8 L716.5,634.4 L717.7,636.0 L718.8,637.7 L719.8,639.4 L720.8,641.2 L721.8,642.9 L722.7,644.7 L723.6,646.5 L724.4,648.3 L725.3,650.2 L726.0,652.0 L726.8,653.9 L727.5,655.7 L728.2,657.6 L728.9,659.5 L729.6,661.4 L730.2,663.3 L730.9,665.2 L731.5,667.1 L732.1,669.0 L732.6,671.0 L733.2,672.9 L733.8,674.8 L734.3,676.7 L734.9,678.7 L735.4,680.6 L736.0,682.5 L736.5,684.5 L737.0,686.4 L737.5,688.4 L738.0,690.3 L738.5,692.3 L739.0,694.2 L739.5,696.2 L740.0,698.1 L740.4,700.1 L740.9,702.0 L741.3,704.0 L741.8,705.9 L742.2,707.9 L742.6,709.9 L743.0,711.8 L743.4,713.8 L743.7,715.8 L744.1,717.7 L744.5,719.7 L744.8,721.7 L745.2,723.7 L745.5,725.7 L745.8,727.6 L746.1,729.6 L746.4,731.6 L746.7,733.6 L746.9,735.6 L747.2,737.6 L747.4,739.6 L747.7,741.6 L747.9,743.6 L748.1,745.6 L748.3,747.6 L748.5,749.6 L748.7,751.6 L748.8,753.6 L749.0,755.6 L749.1,757.6 L749.2,759.6 L749.4,761.6 L749.5,763.6 L749.6,765.6 L749.7,767.6 L749.7,769.6 L749.8,771.6" fill="none" stroke="#2FD62F" stroke-width="4.1" stroke-linejoin="round"/>
<path d="M207.8,502.9 L208.0,504.9 L208.3,506.9 L208.7,508.9 L209.1,510.8 L209.6,512.8 L210.2,514.7 L210.9,516.6 L211.6,518.5 L212.4,520.3 L213.2,522.2 L214.1,524.0 L215.1,525.7 L216.1,527.5 L217.2,529.2 L218.3,530.9 L219.4,532.5 L220.6,534.1 L221.9,535.7 L223.2,537.2 L224.5,538.8 L225.8,540.2 L227.2,541.7 L228.6,543.1 L230.1,544.6 L231.5,545.9 L233.0,547.3 L234.5,548.6 L236.0,550.0 L237.6,551.3 L239.1,552.5 L240.7,553.8 L242.2,555.1 L243.8,556.3 L245.4,557.5 L247.0,558.7 L248.7,559.9 L250.3,561.1 L251.9,562.3 L253.5,563.5 L255.2,564.6 L256.8,565.8 L258.5,566.9 L260.1,568.1 L261.8,569.2 L263.4,570.4 L265.1,571.5 L266.8,572.6 L268.5,573.7 L270.2,574.8 L271.8,575.9 L273.5,577.0 L275.2,578.0 L277.0,579.1 L278.7,580.2 L280.4,581.2 L282.1,582.3 L283.8,583.3 L285.5,584.3 L287.3,585.3 L289.0,586.4 L290.8,587.4 L292.5,588.4 L294.3,589.3 L296.0,590.3 L297.8,591.3 L299.5,592.3 L301.3,593.2 L303.1,594.2 L304.9,595.1 L306.6,596.1 L308.4,597.0 L310.2,597.9 L312.0,598.8 L313.8,599.7 L315.6,600.6 L317.4,601.5 L319.2,602.4 L321.0,603.3 L322.8,604.2 L324.6,605.0 L326.5,605.9 L328.3,606.8 L330.1,607.6 L331.9,608.4 L333.8,609.3 L335.6,610.1 L337.4,610.9 L339.3,611.7 L341.1,612.5 L343.0,613.3 L344.8,614.1 L346.7,614.9 L348.5,615.7 L350.4,616.4 L352.2,617.2 L354.1,618.0 L356.0,618.7 L357.8,619.5 L359.7,620.2 L361.6,620.9 L363.5,621.7 L365.3,622.4 L367.2,623.1 L369.1,623.8 L371.0,624.5 L372.9,625.2 L374.7,625.9 L376.6,626.6 L378.5,627.3 L380.4,628.0 L382.3,628.7 L384.2,629.4 L386.1,630.1 L388.0,630.7 L389.9,631.4 L391.8,632.1 L393.7,632.8 L395.6,633.4 L397.5,634.1 L399.4,634.7 L401.3,635.4 L403.2,636.1 L405.1,636.7 L407.0,637.4 L408.9,638.0 L410.8,638.7 L412.7,639.3 L414.6,640.0 L416.5,640.6 L418.4,641.3 L420.3,642.0 L422.2,642.6 L424.1,643.3 L425.9,644.0 L427.8,644.8 L429.7,645.5 L431.6,646.3 L433.4,647.1 L435.2,647.9 L437.1,648.7 L438.9,649.6 L440.7,650.5 L442.4,651.5 L444.2,652.5 L445.9,653.5 L447.6,654.6 L449.3,655.7 L450.9,656.8 L452.6,658.0 L454.1,659.3 L455.7,660.6 L457.2,661.9 L458.7,663.2 L460.1,664.6 L461.5,666.1 L462.9,667.6 L464.2,669.1 L465.5,670.6 L466.7,672.2 L467.9,673.8 L469.1,675.5 L470.2,677.1 L471.3,678.8 L472.4,680.5 L473.4,682.3 L474.4,684.0 L475.3,685.8 L476.2,687.6 L477.1,689.4 L477.9,691.2 L478.7,693.1 L479.5,694.9 L480.3,696.8 L481.0,698.7 L481.7,700.6 L482.4,702.5 L483.0,704.4 L483.6,706.3 L484.2,708.2 L484.8,710.1 L485.4,712.1 L485.9,714.0 L486.4,715.9 L486.9,717.9 L487.4,719.8 L487.9,721.8 L488.3,723.8 L488.8,725.7 L489.2,727.7 L489.6,729.7 L490.0,731.6 L490.3,733.6 L490.7,735.6 L491.1,737.6 L491.4,739.6 L491.8,741.5 L492.1,743.5 L492.4,745.5 L492.7,747.5 L493.0,749.5 L493.3,751.5 L493.6,753.5 L493.9,755.4 L494.2,757.4 L494.5,759.4 L494.8,761.4 L495.1,763.4 L495.4,765.4 L495.6,767.4 L495.9,769.4 L496.2,771.4 L496.5,773.4" fill="none" stroke="#1212A6" stroke-width="4.1" stroke-linejoin="round"/>
<path d="M224.0,489.8 L225.8,490.7 L227.6,491.5 L229.4,492.4 L231.3,493.2 L233.1,494.1 L234.9,494.9 L236.7,495.7 L238.6,496.6 L240.4,497.4 L242.2,498.2 L244.1,499.1 L245.9,499.9 L247.7,500.7 L249.6,501.5 L251.4,502.3 L253.2,503.1 L255.1,503.9 L256.9,504.7 L258.8,505.5 L260.6,506.3 L262.5,507.1 L264.3,507.9 L266.2,508.7 L268.0,509.4 L269.9,510.2 L271.7,511.0 L273.6,511.7 L275.4,512.5 L277.3,513.3 L279.2,514.0 L281.0,514.8 L282.9,515.5 L284.7,516.3 L286.6,517.0 L288.5,517.7 L290.4,518.5 L292.2,519.2 L294.1,519.9 L296.0,520.7 L297.8,521.4 L299.7,522.1 L301.6,522.8 L303.5,523.5 L305.4,524.2 L307.2,524.9 L309.1,525.6 L311.0,526.3 L312.9,527.0 L314.8,527.7 L316.7,528.4 L318.5,529.1 L320.4,529.8 L322.3,530.5 L324.2,531.1 L326.1,531.8 L328.0,532.5 L329.9,533.1 L331.8,533.8 L333.7,534.5 L335.6,535.1 L337.5,535.8 L339.4,536.4 L341.3,537.1 L343.2,537.7 L345.1,538.4 L347.0,539.0 L348.9,539.6 L350.8,540.3 L352.7,540.9 L354.6,541.5 L356.5,542.1 L358.4,542.8 L360.3,543.4 L362.3,544.0 L364.2,544.6 L366.1,545.2 L368.0,545.8 L369.9,546.4 L371.8,547.0 L373.8,547.6 L375.7,548.2 L377.6,548.8 L379.5,549.4 L381.4,550.0 L383.4,550.6 L385.3,551.1 L387.2,551.7 L389.1,552.3 L391.1,552.9 L393.0,553.4 L394.9,554.0 L396.8,554.6 L398.8,555.1 L400.7,555.7 L402.6,556.2 L404.6,556.8 L406.5,557.3 L408.4,557.9 L410.3,558.4 L412.3,559.0 L414.2,559.5 L416.2,560.0 L418.1,560.6 L420.0,561.1 L422.0,561.6 L423.9,562.2 L425.8,562.7 L427.8,563.2 L429.7,563.7 L431.7,564.2 L433.6,564.7 L435.6,565.2 L437.5,565.8 L439.4,566.3 L441.4,566.8 L443.3,567.3 L445.3,567.8 L447.2,568.2 L449.2,568.7 L451.1,569.2 L453.1,569.7 L455.0,570.2 L457.0,570.7 L458.9,571.2 L460.9,571.6 L462.8,572.1 L464.8,572.6 L466.7,573.0 L468.7,573.5 L470.6,574.0 L472.6,574.4 L474.5,574.9 L476.5,575.3 L478.5,575.8 L480.4,576.2 L482.4,576.7 L484.3,577.1 L486.3,577.6 L488.2,578.0 L490.2,578.5 L492.2,578.9 L494.1,579.3 L496.1,579.8 L498.0,580.2 L500.0,580.6 L502.0,581.1 L503.9,581.5 L505.9,581.9 L507.9,582.3 L509.8,582.7 L511.8,583.1 L513.8,583.6 L515.7,584.0 L517.7,584.4 L519.7,584.8 L521.6,585.2 L523.6,585.6 L525.6,586.0 L527.5,586.4 L529.5,586.8 L531.5,587.2 L533.4,587.5 L535.4,587.9 L537.4,588.3 L539.4,588.7 L541.3,589.1 L543.3,589.5 L545.3,589.8 L547.2,590.2 L549.2,590.6 L551.2,591.0 L553.2,591.3 L555.1,591.7 L557.1,592.1 L559.1,592.4 L561.1,592.8 L563.0,593.1 L565.0,593.5 L567.0,593.9 L569.0,594.2 L571.0,594.6 L572.9,594.9 L574.9,595.3 L576.9,595.6 L578.9,596.0 L580.8,596.3 L582.8,596.7 L584.8,597.0 L586.8,597.3 L588.8,597.7 L590.7,598.0 L592.7,598.4 L594.7,598.7 L596.7,599.0 L598.7,599.4 L600.6,599.7 L602.6,600.0 L604.6,600.3 L606.6,600.7 L608.6,601.0 L610.5,601.3 L612.5,601.7 L614.5,602.0 L616.5,602.3 L618.5,602.6 L620.5,602.9 L622.4,603.3 L624.4,603.6 L626.4,603.9 L628.4,604.2 L630.4,604.6 L632.3,604.9 L634.3,605.3 L636.3,605.6 L638.3,606.0 L640.3,606.3 L642.2,606.7 L644.2,607.1 L646.2,607.5 L648.1,607.9 L650.1,608.3 L652.1,608.7 L654.0,609.1 L656.0,609.6 L657.9,610.0 L659.9,610.5 L661.8,611.0 L663.8,611.5 L665.7,612.0 L667.7,612.6 L669.6,613.1 L671.5,613.7 L673.4,614.3 L675.3,614.9 L677.2,615.6 L679.1,616.2 L681.0,616.9 L682.9,617.6 L684.8,618.4 L686.6,619.1 L688.5,619.9 L690.3,620.7 L692.1,621.6 L693.9,622.5 L695.7,623.3 L697.5,624.3 L699.3,625.2 L701.0,626.2 L702.8,627.2 L704.5,628.3 L706.2,629.4 L707.8,630.5 L709.5,631.6 L711.1,632.8 L712.7,634.0 L714.3,635.3 L715.8,636.5 L717.4,637.9 L718.8,639.2 L720.3,640.6 L721.7,642.0 L723.1,643.5 L724.4,645.0 L725.7,646.5 L727.0,648.1 L728.2,649.7 L729.4,651.3 L730.6,652.9 L731.7,654.6 L732.8,656.3 L733.9,658.0 L734.9,659.7 L735.9,661.4 L736.9,663.2 L737.8,665.0 L738.7,666.7 L739.6,668.5 L740.5,670.4 L741.3,672.2 L742.1,674.0 L742.9,675.9 L743.7,677.7 L744.4,679.6 L745.1,681.5 L745.8,683.4 L746.4,685.3 L747.1,687.2 L747.7,689.1 L748.3,691.0 L748.8,692.9 L749.4,694.9 L749.9,696.8 L750.4,698.7 L750.9,700.7 L751.4,702.6 L751.9,704.6 L752.3,706.6 L752.7,708.5 L753.1,710.5 L753.5,712.5 L753.9,714.4 L754.3,716.4 L754.6,718.4 L755.0,720.4 L755.3,722.3 L755.6,724.3 L755.9,726.3 L756.2,728.3 L756.5,730.3 L756.8,732.3 L757.1,734.3 L757.3,736.3 L757.6,738.2 L757.8,740.2 L758.1,742.2 L758.3,744.2 L758.5,746.2 L758.7,748.2 L759.0,750.2 L759.2,752.2 L759.4,754.2 L759.6,756.2 L759.8,758.2 L760.0,760.2 L760.2,762.2 L760.4,764.2 L760.6,766.2 L760.8,768.2 L761.0,770.2" fill="none" stroke="#000000" stroke-width="4.1" stroke-dasharray="9.5 12.6" stroke-dashoffset="11" stroke-linecap="round" stroke-linejoin="round"/>
<path d="M208.0,474.5 L209.1,476.2 L210.3,477.8 L211.5,479.4 L212.8,480.9 L214.2,482.4 L215.6,483.8 L217.1,485.1 L218.7,486.4 L220.3,487.6 L221.9,488.8 L223.6,489.9 L225.3,491.0 L227.0,492.0 L228.7,493.0 L230.5,494.0 L232.3,494.9 L234.0,495.8 L235.9,496.7 L237.7,497.5 L239.5,498.4 L241.3,499.2 L243.2,500.0 L245.1,500.7 L246.9,501.5 L248.8,502.2 L250.7,502.9 L252.5,503.6 L254.4,504.3 L256.3,505.0 L258.2,505.7 L260.1,506.4 L262.0,507.1 L263.8,507.8 L265.7,508.5 L267.6,509.2 L269.5,509.9 L271.4,510.6 L273.2,511.4 L275.1,512.1 L277.0,512.8 L278.8,513.5 L280.7,514.3 L282.6,515.0 L284.5,515.7 L286.3,516.5 L288.2,517.2 L290.1,517.9 L291.9,518.7 L293.8,519.4 L295.7,520.2 L297.5,520.9 L299.4,521.6 L301.3,522.4 L303.1,523.1 L305.0,523.8 L306.9,524.6 L308.7,525.3 L310.6,526.0 L312.5,526.7 L314.4,527.5 L316.2,528.2 L318.1,528.9 L320.0,529.6 L321.9,530.3 L323.8,531.0 L325.6,531.7 L327.5,532.4 L329.4,533.0 L331.3,533.7 L333.2,534.4 L335.1,535.1 L337.0,535.8 L338.9,536.4 L340.8,537.1 L342.7,537.8 L344.6,538.4 L346.5,539.1 L348.4,539.7 L350.3,540.4 L352.2,541.0 L354.1,541.7 L356.0,542.3 L357.9,542.9 L359.8,543.6 L361.7,544.2 L363.6,544.8 L365.5,545.4 L367.4,546.1 L369.3,546.7 L371.2,547.3 L373.1,547.9 L375.1,548.5 L377.0,549.1 L378.9,549.7 L380.8,550.3 L382.7,550.9 L384.7,551.5 L386.6,552.0 L388.5,552.6 L390.4,553.2 L392.3,553.8 L394.3,554.4 L396.2,554.9 L398.1,555.5 L400.0,556.0 L402.0,556.6 L403.9,557.2 L405.8,557.7 L407.8,558.3 L409.7,558.8 L411.6,559.4 L413.6,559.9 L415.5,560.4 L417.4,561.0 L419.4,561.5 L421.3,562.0 L423.2,562.5 L425.2,563.1 L427.1,563.6 L429.1,564.1 L431.0,564.6 L433.0,565.1 L434.9,565.6 L436.8,566.1 L438.8,566.6 L440.7,567.1 L442.7,567.6 L444.6,568.1 L446.6,568.6 L448.5,569.1 L450.5,569.6 L452.4,570.0 L454.4,570.5 L456.3,571.0 L458.3,571.5 L460.2,571.9 L462.2,572.4 L464.1,572.9 L466.1,573.3 L468.0,573.8 L470.0,574.2 L472.0,574.7 L473.9,575.1 L475.9,575.6 L477.8,576.0 L479.8,576.4 L481.7,576.9 L483.7,577.3 L485.7,577.7 L487.6,578.2 L489.6,578.6 L491.6,579.0 L493.5,579.4 L495.5,579.8 L497.5,580.2 L499.4,580.7 L501.4,581.1 L503.4,581.5 L505.3,581.9 L507.3,582.3 L509.3,582.7 L511.2,583.0 L513.2,583.4 L515.2,583.8 L517.1,584.2 L519.1,584.6 L521.1,585.0 L523.1,585.3 L525.0,585.7 L527.0,586.1 L529.0,586.5 L530.9,586.8 L532.9,587.2 L534.9,587.6 L536.9,587.9 L538.8,588.3 L540.8,588.6 L542.8,589.0 L544.8,589.4 L546.7,589.7 L548.7,590.1 L550.7,590.4 L552.7,590.8 L554.7,591.1 L556.6,591.5 L558.6,591.8 L560.6,592.2 L562.6,592.5 L564.5,592.9 L566.5,593.3 L568.5,593.6 L570.5,594.0 L572.4,594.3 L574.4,594.7 L576.4,595.0 L578.4,595.4 L580.3,595.7 L582.3,596.1 L584.3,596.5 L586.3,596.8 L588.2,597.2 L590.2,597.6 L592.2,597.9 L594.2,598.3 L596.1,598.7 L598.1,599.1 L600.1,599.4 L602.1,599.8 L604.0,600.2 L606.0,600.6 L608.0,601.0 L609.9,601.4 L611.9,601.8 L613.9,602.2 L615.8,602.6 L617.8,603.0 L619.8,603.4 L621.7,603.8 L623.7,604.2 L625.7,604.6 L627.6,605.0 L629.6,605.5 L631.5,605.9 L633.5,606.3 L635.5,606.8 L637.4,607.2 L639.4,607.7 L641.3,608.1 L643.3,608.6 L645.2,609.1 L647.2,609.5 L649.1,610.0 L651.1,610.5 L653.0,611.0 L655.0,611.5 L656.9,612.0 L658.9,612.5 L660.8,613.1 L662.7,613.7 L664.6,614.3 L666.5,614.9 L668.4,615.5 L670.3,616.2 L672.2,616.9 L674.1,617.6 L676.0,618.4 L677.8,619.1 L679.6,620.0 L681.4,620.8 L683.2,621.7 L685.0,622.7 L686.8,623.7 L688.5,624.7 L690.2,625.7 L691.9,626.9 L693.5,628.0 L695.1,629.2 L696.7,630.5 L698.2,631.7 L699.8,633.0 L701.3,634.4 L702.7,635.8 L704.1,637.2 L705.5,638.6 L706.9,640.1 L708.2,641.6 L709.5,643.1 L710.8,644.7 L712.1,646.3 L713.3,647.9 L714.5,649.5 L715.6,651.1 L716.8,652.8 L717.9,654.4 L718.9,656.1 L720.0,657.9 L721.0,659.6 L722.0,661.3 L723.0,663.1 L723.9,664.9 L724.8,666.6 L725.7,668.4 L726.6,670.2 L727.4,672.1 L728.3,673.9 L729.1,675.7 L729.8,677.6 L730.6,679.5 L731.3,681.3 L732.0,683.2 L732.7,685.1 L733.4,687.0 L734.0,688.9 L734.6,690.8 L735.3,692.7 L735.8,694.6 L736.4,696.6 L737.0,698.5 L737.5,700.4 L738.0,702.4 L738.5,704.3 L739.0,706.3 L739.5,708.2 L739.9,710.2 L740.4,712.1 L740.8,714.1 L741.2,716.1 L741.6,718.0 L742.0,720.0 L742.4,722.0 L742.7,723.9 L743.1,725.9 L743.4,727.9 L743.8,729.9 L744.1,731.8 L744.4,733.8 L744.8,735.8 L745.1,737.8 L745.4,739.8 L745.7,741.8 L746.0,743.8 L746.2,745.7 L746.5,747.7 L746.8,749.7 L747.1,751.7 L747.4,753.7 L747.6,755.7 L747.9,757.7 L748.2,759.7 L748.4,761.6 L748.7,763.6 L749.0,765.6 L749.3,767.6 L749.5,769.6 L749.8,771.6" fill="none" stroke="#3FD6DD" stroke-width="4.1" stroke-dasharray="9.5 12.6" stroke-dashoffset="0" stroke-linecap="round" stroke-linejoin="round"/>
<path d="M207.8,497.8 L208.1,499.8 L208.5,501.8 L208.7,503.8 L209.0,505.8 L209.3,507.8 L209.6,509.8 L209.9,511.8 L210.2,513.8 L210.5,515.7 L210.9,517.7 L211.3,519.7 L211.7,521.7 L212.3,523.6 L212.8,525.5 L213.5,527.4 L214.2,529.3 L215.0,531.2 L215.9,533.0 L216.8,534.8 L217.8,536.5 L218.8,538.3 L219.9,540.0 L221.0,541.6 L222.2,543.3 L223.4,544.9 L224.6,546.5 L225.9,548.1 L227.2,549.6 L228.5,551.2 L229.8,552.7 L231.2,554.2 L232.6,555.6 L234.0,557.1 L235.4,558.5 L236.9,559.9 L238.4,561.2 L239.9,562.6 L241.4,563.9 L242.9,565.2 L244.5,566.5 L246.0,567.8 L247.6,569.0 L249.2,570.3 L250.8,571.5 L252.4,572.7 L254.1,573.9 L255.7,575.0 L257.4,576.2 L259.0,577.3 L260.7,578.4 L262.4,579.5 L264.1,580.6 L265.8,581.7 L267.5,582.7 L269.3,583.8 L271.0,584.8 L272.7,585.8 L274.5,586.8 L276.2,587.8 L278.0,588.8 L279.8,589.8 L281.5,590.7 L283.3,591.7 L285.1,592.6 L286.9,593.5 L288.7,594.5 L290.5,595.4 L292.3,596.3 L294.1,597.2 L295.9,598.1 L297.7,598.9 L299.5,599.8 L301.4,600.7 L303.2,601.5 L305.0,602.3 L306.9,603.2 L308.7,604.0 L310.6,604.8 L312.4,605.6 L314.3,606.4 L316.1,607.2 L318.0,608.0 L319.8,608.7 L321.7,609.5 L323.6,610.3 L325.4,611.0 L327.3,611.7 L329.2,612.5 L331.1,613.2 L333.0,613.9 L334.8,614.6 L336.7,615.3 L338.6,616.0 L340.5,616.7 L342.4,617.4 L344.3,618.1 L346.2,618.8 L348.1,619.4 L350.0,620.1 L351.9,620.7 L353.8,621.4 L355.8,622.0 L357.7,622.7 L359.6,623.3 L361.5,623.9 L363.4,624.6 L365.3,625.2 L367.2,625.8 L369.2,626.5 L371.1,627.1 L373.0,627.7 L374.9,628.4 L376.8,629.0 L378.7,629.7 L380.6,630.4 L382.5,631.0 L384.4,631.7 L386.3,632.4 L388.2,633.2 L390.0,633.9 L391.9,634.7 L393.8,635.4 L395.6,636.2 L397.5,637.1 L399.3,637.9 L401.1,638.8 L402.9,639.6 L404.7,640.5 L406.5,641.5 L408.3,642.4 L410.1,643.4 L411.9,644.3 L413.6,645.3 L415.3,646.3 L417.1,647.4 L418.8,648.4 L420.5,649.5 L422.2,650.6 L423.9,651.7 L425.5,652.8 L427.2,654.0 L428.8,655.2 L430.5,656.4 L432.1,657.6 L433.7,658.8 L435.3,660.0 L436.8,661.3 L438.4,662.6 L439.9,663.9 L441.5,665.2 L443.0,666.5 L444.5,667.9 L446.0,669.3 L447.4,670.6 L448.9,672.1 L450.3,673.5 L451.7,674.9 L453.1,676.4 L454.4,677.9 L455.8,679.4 L457.1,680.9 L458.4,682.4 L459.7,684.0 L461.0,685.5 L462.2,687.1 L463.4,688.7 L464.6,690.4 L465.8,692.0 L467.0,693.7 L468.1,695.3 L469.2,697.0 L470.3,698.7 L471.3,700.4 L472.3,702.2 L473.3,703.9 L474.3,705.7 L475.2,707.5 L476.2,709.3 L477.1,711.1 L477.9,712.9 L478.8,714.7 L479.6,716.6 L480.4,718.4 L481.2,720.3 L481.9,722.1 L482.7,724.0 L483.4,725.9 L484.1,727.8 L484.8,729.7 L485.4,731.6 L486.1,733.5 L486.7,735.4 L487.3,737.4 L487.8,739.3 L488.4,741.2 L488.9,743.2 L489.5,745.1 L490.0,747.1 L490.5,749.0 L491.0,751.0 L491.4,752.9 L491.9,754.9 L492.3,756.9 L492.7,758.9 L493.2,760.8 L493.6,762.8 L493.9,764.8 L494.3,766.8 L494.7,768.7 L495.0,770.7 L495.4,772.7" fill="none" stroke="#C824D8" stroke-width="4.1" stroke-dasharray="9.5 12.6" stroke-dashoffset="0" stroke-linecap="round" stroke-linejoin="round"/>
<path d="M207.4,843.1 L208.3,844.9 L209.3,846.6 L210.5,848.2 L211.7,849.8 L213.1,851.2 L214.6,852.6 L216.2,853.9 L217.8,855.1 L219.4,856.2 L221.1,857.3 L222.8,858.4 L224.6,859.3 L226.4,860.3 L228.2,861.2 L230.0,862.0 L231.9,862.8 L233.7,863.6 L235.6,864.3 L237.5,865.0 L239.4,865.7 L241.3,866.3 L243.2,867.0 L245.1,867.6 L247.0,868.2 L248.9,868.8 L250.9,869.4 L252.8,869.9 L254.7,870.5 L256.6,871.1 L258.6,871.7 L260.5,872.3 L262.4,872.9 L264.3,873.5 L266.2,874.1 L268.1,874.8 L270.0,875.4 L271.9,876.1 L273.8,876.7 L275.7,877.4 L277.6,878.1 L279.5,878.7 L281.4,879.4 L283.3,880.1 L285.2,880.8 L287.1,881.5 L289.0,882.2 L290.8,882.9 L292.7,883.6 L294.6,884.3 L296.5,885.1 L298.4,885.8 L300.2,886.5 L302.1,887.2 L304.0,888.0 L305.9,888.7 L307.7,889.4 L309.6,890.1 L311.5,890.9 L313.4,891.6 L315.2,892.3 L317.1,893.1 L319.0,893.8 L320.9,894.5 L322.7,895.2 L324.6,895.9 L326.5,896.6 L328.4,897.4 L330.3,898.1 L332.2,898.8 L334.0,899.5 L335.9,900.1 L337.8,900.8 L339.7,901.5 L341.6,902.2 L343.5,902.8 L345.4,903.5 L347.3,904.1 L349.2,904.8 L351.1,905.4 L353.0,906.0 L355.0,906.6 L356.9,907.3 L358.8,907.9 L360.7,908.5 L362.6,909.0 L364.6,909.6 L366.5,910.2 L368.4,910.8 L370.4,911.3 L372.3,911.9 L374.2,912.4 L376.2,913.0 L378.1,913.5 L380.0,914.0 L382.0,914.6 L383.9,915.1 L385.9,915.6 L387.8,916.1 L389.8,916.6 L391.7,917.1 L393.7,917.6 L395.6,918.1 L397.6,918.6 L399.5,919.0 L401.5,919.5 L403.4,920.0 L405.4,920.5 L407.3,920.9 L409.3,921.4 L411.2,921.8 L413.2,922.3 L415.2,922.7 L417.1,923.2 L419.1,923.6 L421.1,924.0 L423.0,924.5 L425.0,924.9 L427.0,925.3 L428.9,925.8 L430.9,926.2 L432.9,926.6 L434.8,927.0 L436.8,927.4 L438.8,927.8 L440.7,928.2 L442.7,928.6 L444.7,929.1 L446.6,929.5 L448.6,929.9 L450.6,930.3 L452.5,930.7 L454.5,931.1 L456.5,931.5 L458.5,931.9 L460.4,932.2 L462.4,932.6 L464.4,933.0 L466.3,933.4 L468.3,933.8 L470.3,934.2 L472.3,934.6 L474.2,935.0 L476.2,935.4 L478.2,935.8 L480.2,936.2 L482.1,936.6 L484.1,937.0 L486.1,937.4 L488.0,937.8 L490.0,938.1 L492.0,938.5 L494.0,938.9 L495.9,939.3 L497.9,939.7 L499.9,940.1 L501.8,940.6 L503.8,941.0 L505.8,941.4 L507.7,941.8 L509.7,942.2 L511.7,942.6 L513.6,943.0 L515.6,943.4 L517.6,943.9 L519.5,944.3 L521.5,944.7 L523.5,945.1 L525.4,945.6 L527.4,946.0 L529.4,946.5 L531.3,946.9 L533.3,947.3 L535.2,947.8 L537.2,948.3 L539.2,948.7 L541.1,949.2 L543.1,949.6 L545.0,950.1 L547.0,950.6 L548.9,951.0 L550.9,951.5 L552.9,952.0 L554.8,952.5 L556.8,952.9 L558.7,953.4 L560.7,953.9 L562.6,954.4 L564.6,954.9 L566.5,955.4 L568.5,955.8 L570.4,956.3 L572.4,956.8 L574.3,957.3 L576.3,957.8 L578.2,958.3 L580.2,958.8 L582.1,959.3 L584.1,959.8 L586.0,960.2 L588.0,960.7 L589.9,961.2 L591.9,961.7 L593.8,962.2 L595.8,962.7 L597.7,963.2 L599.7,963.6 L601.6,964.1 L603.6,964.6 L605.6,965.1 L607.5,965.5 L609.5,966.0 L611.4,966.5 L613.4,966.9 L615.3,967.4 L617.3,967.9 L619.2,968.3 L621.2,968.8 L623.2,969.2 L625.1,969.7 L627.1,970.1 L629.0,970.6 L631.0,971.0 L633.0,971.5 L634.9,971.9 L636.9,972.3 L638.9,972.8 L640.8,973.2 L642.8,973.6 L644.8,974.0 L646.7,974.4 L648.7,974.9 L650.7,975.3 L652.6,975.7 L654.6,976.2 L656.5,976.7 L658.5,977.2 L660.4,977.8 L662.3,978.3 L664.3,978.9 L666.2,979.6 L668.0,980.3 L669.9,981.0 L671.8,981.8 L673.6,982.7 L675.4,983.6 L677.1,984.5 L678.9,985.6 L680.5,986.7 L682.1,987.9 L683.7,989.2 L685.2,990.5 L686.6,992.0 L687.9,993.5 L689.2,995.0 L690.4,996.7 L691.5,998.3 L692.5,1000.1 L693.5,1001.8 L694.4,1003.6 L695.3,1005.4 L696.1,1007.3 L696.9,1009.1 L697.6,1011.0 L698.2,1012.9 L698.9,1014.8 L699.5,1016.7 L700.1,1018.6 L700.6,1020.6 L701.1,1022.5 L701.6,1024.5 L702.1,1026.4 L702.5,1028.4 L703.0,1030.4 L703.4,1032.3 L703.8,1034.3 L704.2,1036.3 L704.5,1038.2 L704.9,1040.2 L705.3,1042.2 L705.6,1044.2 L705.9,1046.2 L706.3,1048.2 L706.6,1050.1 L706.9,1052.1 L707.3,1054.1 L707.6,1056.1 L707.9,1058.1 L708.2,1060.1 L708.5,1062.0 L708.9,1064.0 L709.2,1066.0 L709.5,1068.0 L709.8,1070.0 L710.1,1072.0 L710.4,1074.0 L710.7,1076.0 L711.0,1077.9 L711.3,1079.9 L711.6,1081.9 L711.9,1083.9 L712.2,1085.9 L712.4,1087.9 L712.7,1089.9 L713.0,1091.9 L713.2,1093.9 L713.5,1095.9 L713.7,1097.9 L714.0,1099.9 L714.2,1101.9 L714.5,1103.9 L714.7,1105.9 L714.9,1107.9 L715.1,1109.9 L715.3,1111.9 L715.5,1113.9 L715.7,1115.9 L715.9,1117.9 L716.1,1119.9 L716.2,1121.9 L716.4,1123.9 L716.5,1125.9 L716.7,1127.9 L716.8,1129.9 L716.9,1131.9" fill="none" stroke="#BC1A1A" stroke-width="4.1" stroke-linejoin="round"/>
<path d="M207.2,856.0 L207.9,857.9 L208.8,859.7 L209.9,861.4 L211.1,863.0 L212.5,864.4 L214.0,865.7 L215.7,866.9 L217.4,867.9 L219.2,868.9 L221.0,869.7 L222.8,870.5 L224.7,871.2 L226.6,871.9 L228.5,872.5 L230.4,873.2 L232.3,873.8 L234.2,874.4 L236.1,875.1 L238.0,875.7 L239.9,876.4 L241.8,877.0 L243.7,877.7 L245.6,878.3 L247.5,879.0 L249.4,879.7 L251.3,880.3 L253.2,881.0 L255.1,881.6 L257.0,882.3 L258.9,883.0 L260.8,883.6 L262.7,884.3 L264.6,885.0 L266.5,885.6 L268.4,886.3 L270.3,887.0 L272.2,887.6 L274.1,888.3 L276.0,889.0 L277.9,889.6 L279.8,890.3 L281.7,891.0 L283.6,891.6 L285.5,892.3 L287.4,893.0 L289.3,893.6 L291.1,894.3 L293.0,895.0 L294.9,895.6 L296.8,896.3 L298.7,896.9 L300.6,897.6 L302.5,898.2 L304.4,898.9 L306.3,899.5 L308.2,900.2 L310.1,900.8 L312.1,901.5 L314.0,902.1 L315.9,902.8 L317.8,903.4 L319.7,904.0 L321.6,904.7 L323.5,905.3 L325.4,905.9 L327.3,906.5 L329.2,907.1 L331.1,907.8 L333.1,908.4 L335.0,909.0 L336.9,909.6 L338.8,910.2 L340.7,910.8 L342.6,911.4 L344.6,912.0 L346.5,912.6 L348.4,913.2 L350.3,913.8 L352.2,914.4 L354.2,914.9 L356.1,915.5 L358.0,916.1 L359.9,916.7 L361.9,917.3 L363.8,917.8 L365.7,918.4 L367.6,919.0 L369.6,919.6 L371.5,920.1 L373.4,920.7 L375.3,921.3 L377.3,921.8 L379.2,922.4 L381.1,922.9 L383.1,923.5 L385.0,924.0 L386.9,924.6 L388.9,925.2 L390.8,925.7 L392.7,926.3 L394.7,926.8 L396.6,927.4 L398.5,927.9 L400.5,928.4 L402.4,929.0 L404.3,929.5 L406.3,930.1 L408.2,930.6 L410.1,931.2 L412.1,931.7 L414.0,932.2 L415.9,932.8 L417.9,933.3 L419.8,933.9 L421.7,934.4 L423.7,934.9 L425.6,935.5 L427.6,936.0 L429.5,936.5 L431.4,937.1 L433.4,937.6 L435.3,938.1 L437.2,938.7 L439.2,939.2 L441.1,939.7 L443.1,940.3 L445.0,940.8 L446.9,941.3 L448.9,941.9 L450.8,942.4 L452.7,942.9 L454.7,943.5 L456.6,944.0 L458.6,944.6 L460.5,945.1 L462.4,945.6 L464.4,946.2 L466.3,946.7 L468.2,947.2 L470.2,947.8 L472.1,948.3 L474.0,948.9 L476.0,949.4 L477.9,949.9 L479.8,950.5 L481.8,951.0 L483.7,951.6 L485.7,952.1 L487.6,952.7 L489.5,953.2 L491.5,953.7 L493.4,954.3 L495.3,954.8 L497.3,955.4 L499.2,955.9 L501.1,956.5 L503.0,957.1 L505.0,957.6 L506.9,958.2 L508.8,958.7 L510.8,959.3 L512.7,959.8 L514.6,960.4 L516.6,960.9 L518.5,961.5 L520.4,962.0 L522.4,962.5 L524.3,963.1 L526.3,963.6 L528.2,964.1 L530.1,964.6 L532.1,965.1 L534.0,965.6 L536.0,966.1 L537.9,966.6 L539.9,967.0 L541.9,967.5 L543.8,967.9 L545.8,968.4 L547.7,968.8 L549.7,969.2 L551.7,969.6 L553.7,970.0 L555.6,970.3 L557.6,970.7 L559.6,971.0 L561.6,971.3 L563.6,971.6 L565.6,971.9 L567.5,972.2 L569.5,972.5 L571.5,972.8 L573.5,973.0 L575.5,973.4 L577.5,973.7 L579.5,974.0 L581.4,974.4 L583.4,974.8 L585.4,975.2 L587.3,975.7 L589.3,976.2 L591.2,976.7 L593.1,977.3 L595.0,978.0 L596.9,978.7 L598.8,979.4 L600.6,980.2 L602.5,981.0 L604.3,981.8 L606.1,982.7 L607.9,983.7 L609.6,984.7 L611.4,985.7 L613.1,986.7 L614.7,987.9 L616.4,989.0 L618.0,990.2 L619.6,991.4 L621.1,992.7 L622.6,994.0 L624.1,995.4 L625.5,996.8 L626.9,998.3 L628.3,999.8 L629.6,1001.3 L630.8,1002.9 L632.1,1004.5 L633.2,1006.1 L634.3,1007.8 L635.4,1009.4 L636.5,1011.2 L637.5,1012.9 L638.4,1014.7 L639.3,1016.5 L640.2,1018.3 L641.1,1020.1 L641.9,1021.9 L642.6,1023.8 L643.4,1025.7 L644.1,1027.6 L644.7,1029.4 L645.4,1031.3 L646.0,1033.3 L646.6,1035.2 L647.2,1037.1 L647.7,1039.0 L648.2,1041.0 L648.7,1042.9 L649.2,1044.9 L649.7,1046.8 L650.1,1048.8 L650.5,1050.8 L651.0,1052.7 L651.4,1054.7 L651.7,1056.7 L652.1,1058.6 L652.5,1060.6 L652.8,1062.6 L653.2,1064.6 L653.5,1066.6 L653.9,1068.5 L654.2,1070.5 L654.5,1072.5 L654.8,1074.5 L655.2,1076.5 L655.5,1078.5 L655.8,1080.4 L656.1,1082.4 L656.4,1084.4 L656.8,1086.4 L657.1,1088.4 L657.4,1090.3 L657.8,1092.3 L658.2,1094.3 L658.5,1096.3 L658.9,1098.3" fill="none" stroke="#2FD62F" stroke-width="4.1" stroke-linejoin="round"/>
<path d="M207.8,834.5 L208.9,836.2 L210.0,837.9 L211.2,839.5 L212.4,841.0 L213.8,842.6 L215.2,844.0 L216.6,845.4 L218.1,846.8 L219.6,848.1 L221.2,849.3 L222.8,850.5 L224.5,851.7 L226.1,852.8 L227.8,853.8 L229.6,854.9 L231.3,855.9 L233.1,856.8 L234.9,857.8 L236.7,858.7 L238.5,859.5 L240.3,860.4 L242.1,861.3 L243.9,862.1 L245.8,862.9 L247.6,863.8 L249.4,864.6 L251.3,865.4 L253.1,866.2 L254.9,867.0 L256.8,867.9 L258.6,868.7 L260.5,869.5 L262.3,870.3 L264.1,871.1 L266.0,871.9 L267.8,872.7 L269.7,873.5 L271.5,874.3 L273.4,875.1 L275.2,875.9 L277.1,876.7 L278.9,877.5 L280.8,878.2 L282.6,879.0 L284.5,879.8 L286.3,880.6 L288.2,881.3 L290.1,882.1 L291.9,882.9 L293.8,883.6 L295.6,884.4 L297.5,885.1 L299.4,885.9 L301.2,886.7 L303.1,887.4 L305.0,888.2 L306.8,888.9 L308.7,889.6 L310.6,890.4 L312.5,891.1 L314.3,891.8 L316.2,892.6 L318.1,893.3 L320.0,894.0 L321.8,894.7 L323.7,895.5 L325.6,896.2 L327.5,896.9 L329.3,897.6 L331.2,898.3 L333.1,899.0 L335.0,899.7 L336.9,900.4 L338.8,901.1 L340.7,901.8 L342.6,902.5 L344.4,903.2 L346.3,903.8 L348.2,904.5 L350.1,905.2 L352.0,905.9 L353.9,906.5 L355.8,907.2 L357.7,907.9 L359.6,908.5 L361.5,909.2 L363.4,909.8 L365.3,910.5 L367.2,911.1 L369.1,911.8 L371.0,912.4 L372.9,913.1 L374.8,913.7 L376.8,914.3 L378.7,915.0 L380.6,915.6 L382.5,916.2 L384.4,916.8 L386.3,917.5 L388.2,918.1 L390.1,918.7 L392.1,919.3 L394.0,919.9 L395.9,920.5 L397.8,921.1 L399.7,921.7 L401.7,922.3 L403.6,922.9 L405.5,923.4 L407.4,924.0 L409.4,924.6 L411.3,925.2 L413.2,925.7 L415.2,926.3 L417.1,926.9 L419.0,927.4 L421.0,928.0 L422.9,928.5 L424.8,929.1 L426.8,929.6 L428.7,930.2 L430.6,930.7 L432.6,931.2 L434.5,931.8 L436.4,932.3 L438.4,932.8 L440.3,933.4 L442.3,933.9 L444.2,934.4 L446.2,934.9 L448.1,935.4 L450.1,935.9 L452.0,936.4 L454.0,936.9 L455.9,937.4 L457.9,937.9 L459.8,938.4 L461.8,938.8 L463.7,939.3 L465.7,939.8 L467.6,940.3 L469.6,940.7 L471.5,941.2 L473.5,941.6 L475.5,942.1 L477.4,942.6 L479.4,943.0 L481.3,943.4 L483.3,943.9 L485.3,944.3 L487.2,944.7 L489.2,945.2 L491.2,945.6 L493.1,946.0 L495.1,946.4 L497.1,946.8 L499.0,947.2 L501.0,947.6 L503.0,948.0 L505.0,948.4 L506.9,948.8 L508.9,949.2 L510.9,949.6 L512.8,950.0 L514.8,950.4 L516.8,950.7 L518.8,951.1 L520.8,951.5 L522.7,951.8 L524.7,952.2 L526.7,952.5 L528.7,952.9 L530.7,953.2 L532.6,953.6 L534.6,953.9 L536.6,954.2 L538.6,954.6 L540.6,954.9 L542.6,955.2 L544.5,955.6 L546.5,955.9 L548.5,956.3 L550.5,956.6 L552.5,956.9 L554.4,957.3 L556.4,957.6 L558.4,958.0 L560.4,958.3 L562.4,958.7 L564.4,959.0 L566.3,959.4 L568.3,959.7 L570.3,960.1 L572.3,960.5 L574.2,960.9 L576.2,961.2 L578.2,961.6 L580.2,962.0 L582.1,962.4 L584.1,962.8 L586.1,963.3 L588.0,963.7 L590.0,964.1 L592.0,964.5 L593.9,965.0 L595.9,965.4 L597.8,965.9 L599.8,966.4 L601.7,966.9 L603.7,967.4 L605.6,967.9 L607.6,968.4 L609.5,968.9 L611.5,969.5 L613.4,970.0 L615.3,970.6 L617.3,971.1 L619.2,971.7 L621.1,972.3 L623.0,973.0 L624.9,973.6 L626.8,974.3 L628.7,974.9 L630.6,975.6 L632.5,976.4 L634.3,977.1 L636.2,977.9 L638.1,978.6 L639.9,979.4 L641.7,980.3 L643.6,981.1 L645.4,982.0 L647.2,982.9 L648.9,983.8 L650.7,984.8 L652.5,985.8 L654.2,986.8 L655.9,987.8 L657.6,988.9 L659.3,990.0 L661.0,991.1 L662.6,992.3 L664.2,993.5 L665.8,994.8 L667.3,996.0 L668.9,997.3 L670.4,998.7 L671.8,1000.0 L673.3,1001.5 L674.7,1002.9 L676.0,1004.4 L677.4,1005.9 L678.7,1007.4 L679.9,1009.0 L681.2,1010.6 L682.4,1012.2 L683.5,1013.9 L684.6,1015.5 L685.7,1017.2 L686.8,1018.9 L687.8,1020.6 L688.8,1022.4 L689.8,1024.1 L690.8,1025.9 L691.7,1027.7 L692.6,1029.5 L693.5,1031.3 L694.3,1033.1 L695.2,1035.0 L696.0,1036.8 L696.7,1038.6 L697.5,1040.5 L698.3,1042.4 L699.0,1044.2 L699.7,1046.1 L700.4,1048.0 L701.1,1049.9 L701.7,1051.8 L702.4,1053.7 L703.0,1055.6 L703.6,1057.5 L704.2,1059.5 L704.8,1061.4 L705.4,1063.3 L705.9,1065.2 L706.5,1067.2 L707.0,1069.1 L707.6,1071.1 L708.1,1073.0 L708.6,1074.9 L709.1,1076.9 L709.6,1078.8 L710.1,1080.8 L710.6,1082.7 L711.0,1084.7 L711.5,1086.7 L711.9,1088.6 L712.3,1090.6 L712.7,1092.6 L713.1,1094.5 L713.5,1096.5 L713.9,1098.5 L714.2,1100.5 L714.5,1102.5 L714.8,1104.4 L715.1,1106.4 L715.3,1108.4 L715.6,1110.4 L715.8,1112.4 L716.0,1114.4 L716.2,1116.4 L716.3,1118.4 L716.5,1120.4 L716.6,1122.5 L716.7,1124.5 L716.7,1126.5 L716.8,1128.5 L716.8,1130.5" fill="none" stroke="#000000" stroke-width="4.1" stroke-dasharray="9.5 12.6" stroke-dashoffset="0" stroke-linecap="round" stroke-linejoin="round"/>
<path d="M207.4,842.3 L208.3,844.1 L209.2,845.9 L210.3,847.6 L211.3,849.3 L212.5,851.0 L213.7,852.6 L215.0,854.1 L216.3,855.7 L217.7,857.1 L219.1,858.5 L220.5,859.9 L222.1,861.3 L223.6,862.5 L225.2,863.8 L226.8,865.0 L228.4,866.2 L230.1,867.3 L231.7,868.4 L233.4,869.5 L235.2,870.6 L236.9,871.6 L238.6,872.6 L240.4,873.6 L242.1,874.5 L243.9,875.5 L245.7,876.4 L247.5,877.4 L249.3,878.3 L251.1,879.2 L252.8,880.1 L254.6,881.0 L256.4,881.9 L258.2,882.8 L260.0,883.7 L261.8,884.6 L263.6,885.5 L265.5,886.4 L267.3,887.3 L269.1,888.1 L270.9,889.0 L272.7,889.9 L274.5,890.7 L276.3,891.6 L278.2,892.4 L280.0,893.3 L281.8,894.1 L283.6,895.0 L285.5,895.8 L287.3,896.6 L289.1,897.5 L291.0,898.3 L292.8,899.1 L294.6,899.9 L296.5,900.7 L298.3,901.5 L300.2,902.3 L302.0,903.1 L303.9,903.9 L305.7,904.7 L307.6,905.5 L309.4,906.3 L311.3,907.0 L313.1,907.8 L315.0,908.6 L316.9,909.4 L318.7,910.1 L320.6,910.9 L322.4,911.6 L324.3,912.4 L326.2,913.1 L328.0,913.9 L329.9,914.6 L331.8,915.3 L333.7,916.0 L335.5,916.8 L337.4,917.5 L339.3,918.2 L341.2,918.9 L343.1,919.6 L344.9,920.3 L346.8,921.0 L348.7,921.7 L350.6,922.4 L352.5,923.1 L354.4,923.8 L356.3,924.5 L358.2,925.2 L360.1,925.8 L362.0,926.5 L363.9,927.2 L365.8,927.8 L367.7,928.5 L369.6,929.2 L371.5,929.8 L373.4,930.5 L375.3,931.1 L377.2,931.7 L379.1,932.4 L381.0,933.0 L382.9,933.6 L384.8,934.3 L386.7,934.9 L388.6,935.5 L390.6,936.1 L392.5,936.7 L394.4,937.3 L396.3,937.9 L398.2,938.5 L400.1,939.1 L402.1,939.7 L404.0,940.3 L405.9,940.9 L407.8,941.5 L409.8,942.0 L411.7,942.6 L413.6,943.2 L415.6,943.7 L417.5,944.3 L419.4,944.8 L421.4,945.4 L423.3,945.9 L425.2,946.5 L427.2,947.0 L429.1,947.5 L431.1,948.1 L433.0,948.6 L434.9,949.1 L436.9,949.6 L438.8,950.1 L440.8,950.6 L442.7,951.1 L444.7,951.6 L446.6,952.1 L448.6,952.6 L450.5,953.1 L452.5,953.6 L454.4,954.1 L456.4,954.6 L458.3,955.0 L460.3,955.5 L462.2,956.0 L464.2,956.4 L466.2,956.9 L468.1,957.3 L470.1,957.8 L472.0,958.2 L474.0,958.6 L476.0,959.1 L477.9,959.5 L479.9,959.9 L481.9,960.3 L483.8,960.8 L485.8,961.2 L487.8,961.6 L489.7,962.0 L491.7,962.4 L493.7,962.8 L495.7,963.2 L497.6,963.6 L499.6,964.0 L501.6,964.3 L503.6,964.7 L505.5,965.1 L507.5,965.5 L509.5,965.9 L511.4,966.3 L513.4,966.7 L515.4,967.1 L517.4,967.5 L519.3,967.9 L521.3,968.3 L523.3,968.7 L525.2,969.1 L527.2,969.5 L529.2,970.0 L531.1,970.4 L533.1,970.8 L535.1,971.3 L537.0,971.7 L539.0,972.2 L540.9,972.7 L542.9,973.1 L544.8,973.6 L546.8,974.1 L548.7,974.6 L550.7,975.1 L552.6,975.6 L554.6,976.2 L556.5,976.7 L558.4,977.3 L560.4,977.8 L562.3,978.4 L564.2,979.0 L566.1,979.6 L568.0,980.2 L569.9,980.8 L571.9,981.5 L573.7,982.2 L575.6,982.9 L577.5,983.6 L579.4,984.3 L581.3,985.0 L583.1,985.8 L585.0,986.6 L586.8,987.4 L588.6,988.2 L590.5,989.1 L592.3,990.0 L594.1,990.9 L595.8,991.8 L597.6,992.8 L599.3,993.8 L601.1,994.8 L602.8,995.9 L604.5,997.0 L606.1,998.1 L607.8,999.3 L609.4,1000.5 L611.0,1001.7 L612.6,1003.0 L614.1,1004.3 L615.6,1005.6 L617.1,1007.0 L618.5,1008.4 L619.9,1009.8 L621.2,1011.3 L622.6,1012.8 L623.8,1014.4 L625.1,1016.0 L626.3,1017.6 L627.4,1019.2 L628.5,1020.9 L629.6,1022.6 L630.6,1024.3 L631.6,1026.1 L632.6,1027.8 L633.5,1029.6 L634.4,1031.4 L635.3,1033.3 L636.1,1035.1 L636.9,1036.9 L637.6,1038.8 L638.4,1040.7 L639.1,1042.5 L639.8,1044.4 L640.5,1046.3 L641.1,1048.2 L641.7,1050.1 L642.4,1052.1 L642.9,1054.0 L643.5,1055.9 L644.1,1057.8 L644.6,1059.8 L645.1,1061.7 L645.6,1063.7 L646.1,1065.6 L646.6,1067.6 L647.1,1069.5 L647.5,1071.5 L648.0,1073.4 L648.4,1075.4 L648.9,1077.4 L649.3,1079.3 L649.7,1081.3 L650.1,1083.3 L650.5,1085.2 L650.9,1087.2 L651.3,1089.2 L651.7,1091.2 L652.1,1093.1 L652.5,1095.1 L652.9,1097.1 L653.3,1099.0 L653.7,1101.0 L654.0,1103.0 L654.4,1105.0 L654.8,1106.9 L655.2,1108.9 L655.6,1110.9 L656.0,1112.8 L656.5,1114.8 L656.9,1116.8" fill="none" stroke="#C824D8" stroke-width="4.1" stroke-dasharray="9.5 12.6" stroke-dashoffset="0" stroke-linecap="round" stroke-linejoin="round"/></g>
<g><rect x="126.8" y="63" width="731.3000000000001" height="1117.5" fill="none" stroke="#000" stroke-width="2.6" stroke-linejoin="round"/>
<line x1="126.8" y1="435.6" x2="858.1" y2="435.6" stroke="#000" stroke-width="2.6"/>
<line x1="126.8" y1="808.2" x2="858.1" y2="808.2" stroke="#000" stroke-width="2.6"/>
<path d="M208.3,63 v12.8 M208.3,435.6 v-12.8 M208.3,808.2 v-12.8 M208.3,1180.5 v-12.8 M289.5,63 v5.8 M289.5,435.6 v-5.8 M289.5,808.2 v-5.8 M289.5,1180.5 v-5.8 M370.6,63 v12.8 M370.6,435.6 v-12.8 M370.6,808.2 v-12.8 M370.6,1180.5 v-12.8 M451.8,63 v5.8 M451.8,435.6 v-5.8 M451.8,808.2 v-5.8 M451.8,1180.5 v-5.8 M532.9,63 v12.8 M532.9,435.6 v-12.8 M532.9,808.2 v-12.8 M532.9,1180.5 v-12.8 M614.0,63 v5.8 M614.0,435.6 v-5.8 M614.0,808.2 v-5.8 M614.0,1180.5 v-5.8 M695.2,63 v12.8 M695.2,435.6 v-12.8 M695.2,808.2 v-12.8 M695.2,1180.5 v-12.8 M776.3,63 v5.8 M776.3,435.6 v-5.8 M776.3,808.2 v-5.8 M776.3,1180.5 v-5.8 M126.8,102.0 h12.8 M858.1,102.0 h-12.8 M126.8,195.7 h12.8 M858.1,195.7 h-12.8 M126.8,289.3 h12.8 M858.1,289.3 h-12.8 M126.8,383.0 h12.8 M858.1,383.0 h-12.8 M126.8,148.8 h5.8 M858.1,148.8 h-5.8 M126.8,242.5 h5.8 M858.1,242.5 h-5.8 M126.8,336.1 h5.8 M858.1,336.1 h-5.8 M126.8,429.9 h5.8 M858.1,429.9 h-5.8 M126.8,472.9 h12.8 M858.1,472.9 h-12.8 M126.8,566.6 h12.8 M858.1,566.6 h-12.8 M126.8,660.3 h12.8 M858.1,660.3 h-12.8 M126.8,754.0 h12.8 M858.1,754.0 h-12.8 M126.8,519.8 h5.8 M858.1,519.8 h-5.8 M126.8,613.5 h5.8 M858.1,613.5 h-5.8 M126.8,707.1 h5.8 M858.1,707.1 h-5.8 M126.8,800.9 h5.8 M858.1,800.9 h-5.8 M126.8,844.1 h12.8 M858.1,844.1 h-12.8 M126.8,937.8 h12.8 M858.1,937.8 h-12.8 M126.8,1031.5 h12.8 M858.1,1031.5 h-12.8 M126.8,1125.2 h12.8 M858.1,1125.2 h-12.8 M126.8,891.0 h5.8 M858.1,891.0 h-5.8 M126.8,984.6 h5.8 M858.1,984.6 h-5.8 M126.8,1078.3 h5.8 M858.1,1078.3 h-5.8 M126.8,1172.0 h5.8 M858.1,1172.0 h-5.8" stroke="#000" stroke-width="2.6" fill="none" stroke-linecap="round"/></g>
<g><rect x="716.5" y="79.5" width="130" height="165" fill="#fff" stroke="#585858" stroke-width="1.4"/>
<path d="M720.1,95.2 H768.2" stroke="#BC1A1A" stroke-width="3.6" stroke-linecap="round"/>
<text x="775" y="103.1" font-size="22.2">1C sim</text>
<path d="M720.1,122.0 H768.2" stroke="#2FD62F" stroke-width="3.6" stroke-linecap="round"/>
<text x="775" y="129.9" font-size="22.2">2C sim</text>
<path d="M720.1,148.8 H768.2" stroke="#1212A6" stroke-width="3.6" stroke-linecap="round"/>
<text x="775" y="156.7" font-size="22.2">3C sim</text>
<path d="M720.1,175.6 H734.0 M754.3,175.6 H768.2" stroke="#000000" stroke-width="3.6" stroke-linecap="round"/>
<text x="775" y="183.5" font-size="22.2">1C exp</text>
<path d="M720.1,202.4 H734.0 M754.3,202.4 H768.2" stroke="#3FD6DD" stroke-width="3.6" stroke-linecap="round"/>
<text x="775" y="210.3" font-size="22.2">2C exp</text>
<path d="M720.1,229.2 H734.0 M754.3,229.2 H768.2" stroke="#C824D8" stroke-width="3.6" stroke-linecap="round"/>
<text x="775" y="237.1" font-size="22.2">3C exp</text>
<rect x="716.5" y="440.2" width="130.5" height="164.6" fill="#fff" stroke="#585858" stroke-width="1.4"/>
<path d="M720.1,455.4 H768.2" stroke="#BC1A1A" stroke-width="3.6" stroke-linecap="round"/>
<text x="775" y="463.3" font-size="22.2">1C sim</text>
<path d="M720.1,482.2 H768.2" stroke="#2FD62F" stroke-width="3.6" stroke-linecap="round"/>
<text x="775" y="490.1" font-size="22.2">2C sim</text>
<path d="M720.1,509.1 H768.2" stroke="#1212A6" stroke-width="3.6" stroke-linecap="round"/>
<text x="775" y="517.0" font-size="22.2">3C sim</text>
<path d="M720.1,536.0 H734.0 M754.3,536.0 H768.2" stroke="#000000" stroke-width="3.6" stroke-linecap="round"/>
<text x="775" y="543.9" font-size="22.2">1C exp</text>
<path d="M720.1,562.8 H734.0 M754.3,562.8 H768.2" stroke="#3FD6DD" stroke-width="3.6" stroke-linecap="round"/>
<text x="775" y="570.7" font-size="22.2">2C exp</text>
<path d="M720.1,589.6 H734.0 M754.3,589.6 H768.2" stroke="#C824D8" stroke-width="3.6" stroke-linecap="round"/>
<text x="775" y="597.5" font-size="22.2">3C exp</text>
<rect x="705.2" y="822.2" width="141" height="121.3" fill="#fff" stroke="#585858" stroke-width="1.4"/>
<path d="M708.5,838.8 H762.0" stroke="#BC1A1A" stroke-width="3.6" stroke-linecap="round"/>
<text x="769.2" y="847.1" font-size="23.3">1C sim</text>
<path d="M708.5,868.0 H762.0" stroke="#2FD62F" stroke-width="3.6" stroke-linecap="round"/>
<text x="769.2" y="876.3" font-size="23.3">2C sim</text>
<path d="M709.2,897.2 H722.8 M744.1,897.2 H757.4" stroke="#000000" stroke-width="3.6" stroke-linecap="round"/>
<text x="769.2" y="905.5" font-size="23.3">1C exp</text>
<path d="M709.2,926.4 H722.8 M744.1,926.4 H757.4" stroke="#C824D8" stroke-width="3.6" stroke-linecap="round"/>
<text x="769.2" y="934.7" font-size="23.3">2C exp</text></g>
<g><text transform="translate(110.6,112.2) scale(1,1.11)" text-anchor="end" font-size="30.2">4.24</text>
<text transform="translate(110.6,205.9) scale(1,1.11)" text-anchor="end" font-size="30.2">3.71</text>
<text transform="translate(110.6,299.5) scale(1,1.11)" text-anchor="end" font-size="30.2">3.18</text>
<text transform="translate(110.6,393.2) scale(1,1.11)" text-anchor="end" font-size="30.2">2.65</text>
<text transform="translate(110.6,483.1) scale(1,1.11)" text-anchor="end" font-size="30.2">4.16</text>
<text transform="translate(110.6,576.8) scale(1,1.11)" text-anchor="end" font-size="30.2">3.64</text>
<text transform="translate(110.6,670.5) scale(1,1.11)" text-anchor="end" font-size="30.2">3.12</text>
<text transform="translate(110.6,764.2) scale(1,1.11)" text-anchor="end" font-size="30.2">2.60</text>
<text transform="translate(110.6,854.3) scale(1,1.11)" text-anchor="end" font-size="30.2">4.08</text>
<text transform="translate(110.6,948.0) scale(1,1.11)" text-anchor="end" font-size="30.2">3.57</text>
<text transform="translate(110.6,1041.7) scale(1,1.11)" text-anchor="end" font-size="30.2">3.06</text>
<text transform="translate(110.6,1135.4) scale(1,1.11)" text-anchor="end" font-size="30.2">2.55</text>
<text transform="translate(208.5,1220.6) scale(1,1.11)" text-anchor="middle" font-size="30.2">0</text>
<text transform="translate(370.8,1220.6) scale(1,1.11)" text-anchor="middle" font-size="30.2">1000</text>
<text transform="translate(533.1,1220.6) scale(1,1.11)" text-anchor="middle" font-size="30.2">2000</text>
<text transform="translate(695.4,1220.6) scale(1,1.11)" text-anchor="middle" font-size="30.2">3000</text>
<text transform="translate(857.7,1220.6) scale(1,1.11)" text-anchor="middle" font-size="30.2">4000</text>
<text transform="translate(332.5,28.6) scale(1,1.035)" font-size="38.1">Terminal voltage</text>
<text x="492.5" y="1278" text-anchor="middle" font-size="38.5">Time/s</text>
<text transform="translate(30,598) rotate(-90)" text-anchor="middle" font-size="38.3">Voltage/V</text>
<text transform="translate(161.6,374.6) scale(1,1.05)" font-size="37.5" font-weight="bold" style="fill:#EA841C">After 100 Cycles</text>
<text transform="translate(157.1,717.9) scale(1,1.05)" font-size="37.5" font-weight="bold" style="fill:#EA841C">After 180 Cycles</text>
<text transform="translate(157.3,1123.9) scale(1,1.05)" font-size="37.5" font-weight="bold" style="fill:#EA841C">After 380 Cycles</text></g>
</g>
</svg>
</body></html>
